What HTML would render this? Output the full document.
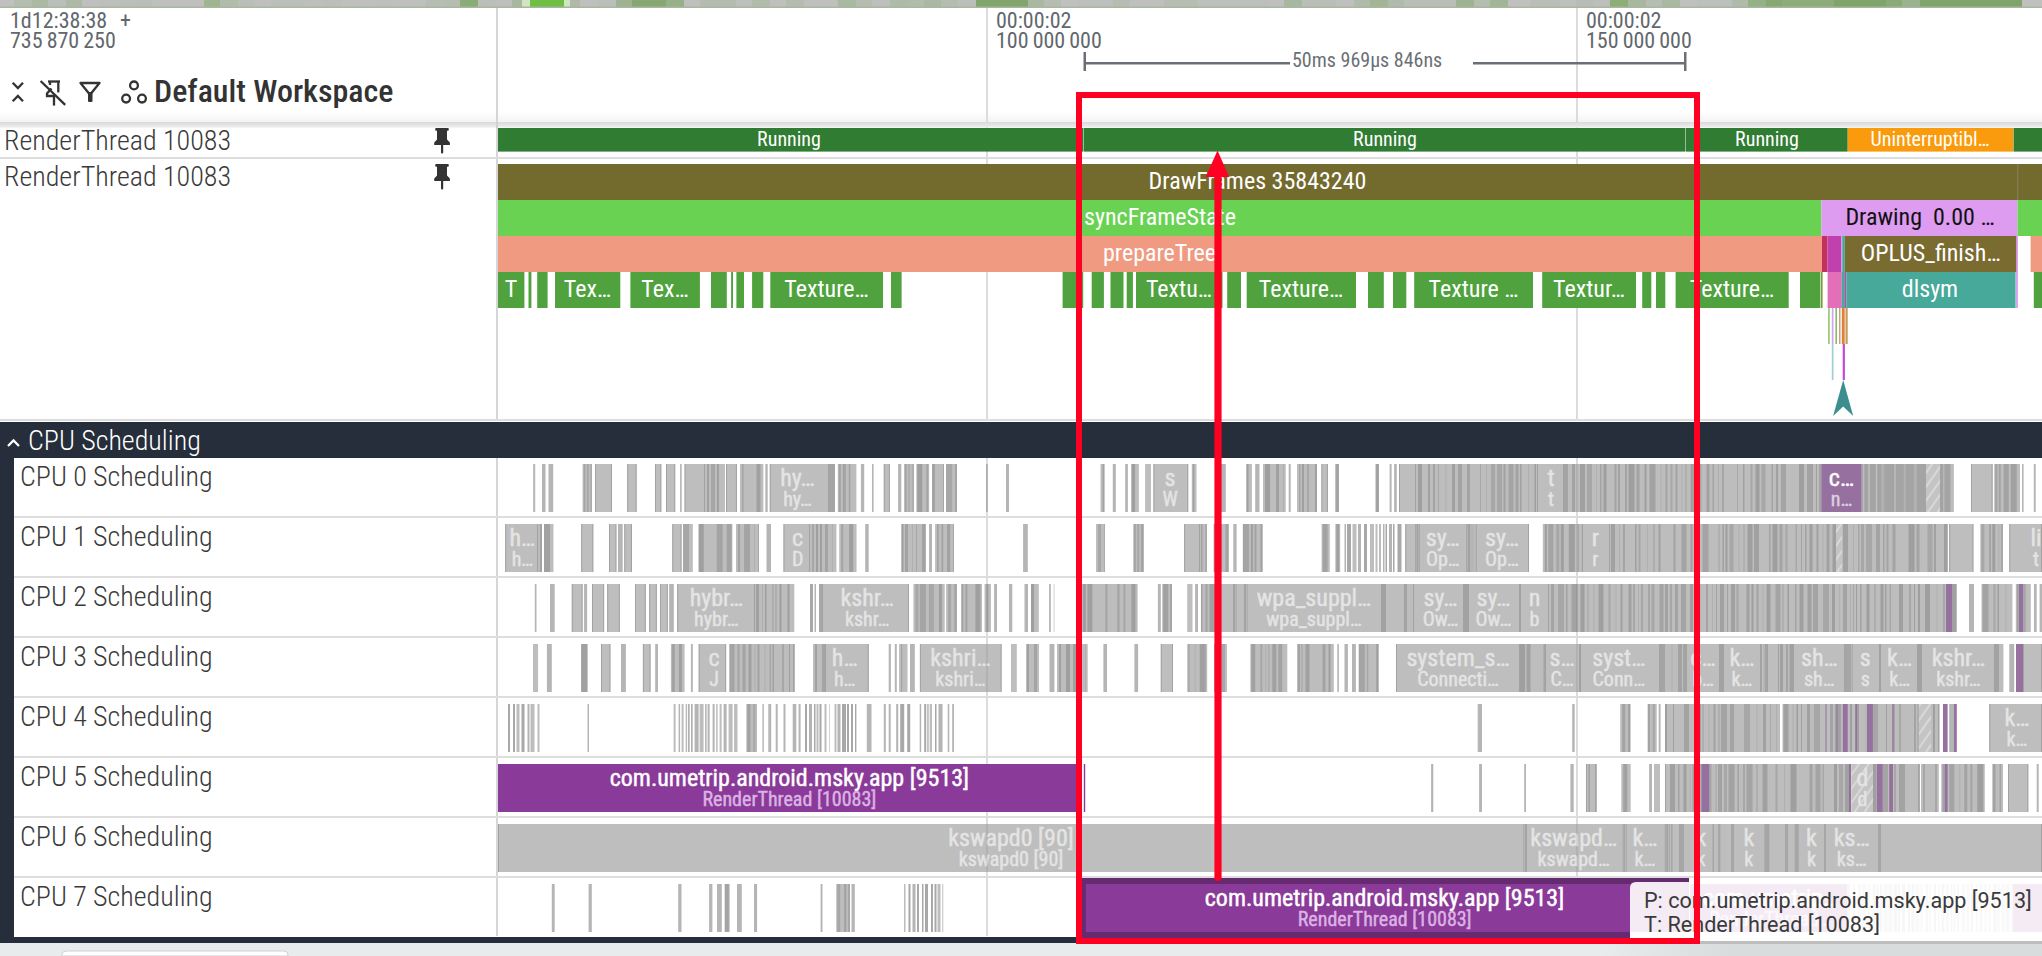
<!DOCTYPE html>
<html><head><meta charset="utf-8"><title>Perfetto UI</title>
<style>html,body{margin:0;padding:0;background:#fff;width:2042px;height:956px;overflow:hidden}
</style></head>
<body><svg width="2042" height="956" viewBox="0 0 2042 956" style="display:block"><rect x="0.0" y="0.0" width="2042.0" height="956.0" fill="#ffffff"/><rect x="0.0" y="0.0" width="14.5" height="7.0" fill="#c0c0bf"/><rect x="14.0" y="0.0" width="18.5" height="7.0" fill="#b5bcb0"/><rect x="32.0" y="0.0" width="16.5" height="7.0" fill="#abb9a3"/><rect x="48.0" y="0.0" width="18.5" height="7.0" fill="#bbbfb9"/><rect x="66.0" y="0.0" width="16.5" height="7.0" fill="#adb9a6"/><rect x="82.0" y="0.0" width="122.5" height="7.0" fill="#bfc0be"/><rect x="100.0" y="0.0" width="18.5" height="7.0" fill="#bcbfbb"/><rect x="118.0" y="0.0" width="17.5" height="7.0" fill="#bbbfba"/><rect x="135.0" y="0.0" width="17.5" height="7.0" fill="#b9beb7"/><rect x="204.0" y="0.0" width="16.5" height="7.0" fill="#9fb592"/><rect x="220.0" y="0.0" width="18.5" height="7.0" fill="#b2bcac"/><rect x="238.0" y="0.0" width="16.5" height="7.0" fill="#b9bfb6"/><rect x="254.0" y="0.0" width="17.5" height="7.0" fill="#bfc0be"/><rect x="271.0" y="0.0" width="17.5" height="7.0" fill="#bbbfba"/><rect x="288.0" y="0.0" width="18.5" height="7.0" fill="#bbbeb9"/><rect x="306.0" y="0.0" width="18.5" height="7.0" fill="#bebfbd"/><rect x="324.0" y="0.0" width="17.5" height="7.0" fill="#bbbeb9"/><rect x="341.0" y="0.0" width="35.5" height="7.0" fill="#bfc0be"/><rect x="376.0" y="0.0" width="16.5" height="7.0" fill="#bdbfbc"/><rect x="392.0" y="0.0" width="34.5" height="7.0" fill="#bfc0be"/><rect x="426.0" y="0.0" width="18.5" height="7.0" fill="#b6bdb2"/><rect x="444.0" y="0.0" width="16.5" height="7.0" fill="#b4bdb0"/><rect x="460.0" y="0.0" width="18.5" height="7.0" fill="#8aac76"/><rect x="478.0" y="0.0" width="16.5" height="7.0" fill="#bbbfba"/><rect x="494.0" y="0.0" width="18.5" height="7.0" fill="#bebfbd"/><rect x="512.0" y="0.0" width="10.5" height="7.0" fill="#a9b7a0"/><rect x="522.0" y="0.0" width="8.5" height="7.0" fill="#cfe6bf"/><rect x="530.0" y="0.0" width="34.5" height="7.0" fill="#6fbf45"/><rect x="564.0" y="0.0" width="6.5" height="7.0" fill="#cfe6bf"/><rect x="570.0" y="0.0" width="10.5" height="7.0" fill="#b0b9aa"/><rect x="580.0" y="0.0" width="18.5" height="7.0" fill="#bfc0be"/><rect x="598.0" y="0.0" width="18.5" height="7.0" fill="#bbbfb9"/><rect x="616.0" y="0.0" width="16.5" height="7.0" fill="#9fb393"/><rect x="632.0" y="0.0" width="34.5" height="7.0" fill="#87a672"/><rect x="666.0" y="0.0" width="18.5" height="7.0" fill="#96b087"/><rect x="684.0" y="0.0" width="16.5" height="7.0" fill="#bfc0be"/><rect x="700.0" y="0.0" width="36.5" height="7.0" fill="#b4bcaf"/><rect x="736.0" y="0.0" width="16.5" height="7.0" fill="#bcbfbb"/><rect x="752.0" y="0.0" width="18.5" height="7.0" fill="#b2bcac"/><rect x="770.0" y="0.0" width="16.5" height="7.0" fill="#bfc0be"/><rect x="786.0" y="0.0" width="18.5" height="7.0" fill="#b3bcae"/><rect x="804.0" y="0.0" width="34.5" height="7.0" fill="#bfc0be"/><rect x="838.0" y="0.0" width="18.5" height="7.0" fill="#a9b8a1"/><rect x="856.0" y="0.0" width="16.5" height="7.0" fill="#b4bdb0"/><rect x="872.0" y="0.0" width="18.5" height="7.0" fill="#bdbfbc"/><rect x="890.0" y="0.0" width="18.5" height="7.0" fill="#aebba8"/><rect x="908.0" y="0.0" width="16.5" height="7.0" fill="#b2bcad"/><rect x="924.0" y="0.0" width="17.5" height="7.0" fill="#a9b8a2"/><rect x="941.0" y="0.0" width="17.5" height="7.0" fill="#b4bdb0"/><rect x="958.0" y="0.0" width="18.5" height="7.0" fill="#bbbfba"/><rect x="976.0" y="0.0" width="52.5" height="7.0" fill="#82a56e"/><rect x="1028.0" y="0.0" width="16.5" height="7.0" fill="#aab8a2"/><rect x="1044.0" y="0.0" width="17.5" height="7.0" fill="#b5bcb1"/><rect x="1061.0" y="0.0" width="17.5" height="7.0" fill="#c0c0bf"/><rect x="1078.0" y="0.0" width="35.5" height="7.0" fill="#bcbfbb"/><rect x="1113.0" y="0.0" width="17.5" height="7.0" fill="#b6bdb2"/><rect x="1130.0" y="0.0" width="34.5" height="7.0" fill="#bfc0be"/><rect x="1164.0" y="0.0" width="34.5" height="7.0" fill="#b6bdb2"/><rect x="1198.0" y="0.0" width="69.5" height="7.0" fill="#bcbfbb"/><rect x="1267.0" y="0.0" width="17.5" height="7.0" fill="#bfc0be"/><rect x="1284.0" y="0.0" width="18.5" height="7.0" fill="#a8b7a0"/><rect x="1302.0" y="0.0" width="34.5" height="7.0" fill="#b9beb6"/><rect x="1336.0" y="0.0" width="18.5" height="7.0" fill="#bfc0be"/><rect x="1354.0" y="0.0" width="16.5" height="7.0" fill="#b1bbab"/><rect x="1370.0" y="0.0" width="18.5" height="7.0" fill="#a2b596"/><rect x="1388.0" y="0.0" width="16.5" height="7.0" fill="#b1bbab"/><rect x="1404.0" y="0.0" width="52.5" height="7.0" fill="#b9beb7"/><rect x="1456.0" y="0.0" width="18.5" height="7.0" fill="#9db391"/><rect x="1474.0" y="0.0" width="16.5" height="7.0" fill="#b5bdb1"/><rect x="1490.0" y="0.0" width="18.5" height="7.0" fill="#a2b597"/><rect x="1508.0" y="0.0" width="22.5" height="7.0" fill="#bfc0bf"/><rect x="1530.0" y="0.0" width="30.5" height="7.0" fill="#b9beb6"/><rect x="1560.0" y="0.0" width="16.5" height="7.0" fill="#bfc0be"/><rect x="1576.0" y="0.0" width="18.5" height="7.0" fill="#b8beb5"/><rect x="1594.0" y="0.0" width="16.5" height="7.0" fill="#bcbfbb"/><rect x="1610.0" y="0.0" width="18.5" height="7.0" fill="#8dad79"/><rect x="1628.0" y="0.0" width="18.5" height="7.0" fill="#a8b7a0"/><rect x="1646.0" y="0.0" width="16.5" height="7.0" fill="#b6bdb2"/><rect x="1662.0" y="0.0" width="18.5" height="7.0" fill="#a9b8a1"/><rect x="1680.0" y="0.0" width="17.5" height="7.0" fill="#c0c0bf"/><rect x="1697.0" y="0.0" width="35.5" height="7.0" fill="#bcbfbb"/><rect x="1732.0" y="0.0" width="16.5" height="7.0" fill="#b1bbab"/><rect x="1748.0" y="0.0" width="18.5" height="7.0" fill="#94b085"/><rect x="1766.0" y="0.0" width="16.5" height="7.0" fill="#88a873"/><rect x="1782.0" y="0.0" width="52.5" height="7.0" fill="#8dac7a"/><rect x="1834.0" y="0.0" width="52.5" height="7.0" fill="#80a56b"/><rect x="1886.0" y="0.0" width="16.5" height="7.0" fill="#8aab77"/><rect x="1902.0" y="0.0" width="18.5" height="7.0" fill="#9bb28f"/><rect x="1920.0" y="0.0" width="102.5" height="7.0" fill="#80a56c"/><rect x="2022.0" y="0.0" width="20.5" height="7.0" fill="#c0c0bf"/><rect x="0.0" y="6.5" width="2042.0" height="1.5" fill="#a9b6a0"/><rect x="986.0" y="8.0" width="2.0" height="114.0" fill="#dcdcdc"/><rect x="1576.0" y="8.0" width="2.0" height="114.0" fill="#dcdcdc"/><rect x="496.0" y="8.0" width="2.0" height="114.0" fill="#d6d6d6"/><text x="10.0" y="28.0" font-size="22" font-weight="400" fill="#62676d" text-anchor="start" style="font-family:'Roboto Condensed','Liberation Sans',sans-serif" textLength="97.22" lengthAdjust="spacingAndGlyphs">1d12:38:38</text><text x="120.0" y="28.0" font-size="22" font-weight="400" fill="#62676d" text-anchor="start" style="font-family:'Roboto Condensed','Liberation Sans',sans-serif" textLength="10.94" lengthAdjust="spacingAndGlyphs">+</text><text x="10.0" y="48.0" font-size="22" font-weight="400" fill="#62676d" text-anchor="start" style="font-family:'Roboto Condensed','Liberation Sans',sans-serif" textLength="105.84" lengthAdjust="spacingAndGlyphs" word-spacing="-1">735 870 250</text><text x="996.0" y="28.0" font-size="22" font-weight="400" fill="#62676d" text-anchor="start" style="font-family:'Roboto Condensed','Liberation Sans',sans-serif" textLength="75.44" lengthAdjust="spacingAndGlyphs">00:00:02</text><text x="996.0" y="48.0" font-size="22" font-weight="400" fill="#62676d" text-anchor="start" style="font-family:'Roboto Condensed','Liberation Sans',sans-serif" textLength="105.84" lengthAdjust="spacingAndGlyphs" word-spacing="-1">100 000 000</text><text x="1586.0" y="28.0" font-size="22" font-weight="400" fill="#62676d" text-anchor="start" style="font-family:'Roboto Condensed','Liberation Sans',sans-serif" textLength="75.44" lengthAdjust="spacingAndGlyphs">00:00:02</text><text x="1586.0" y="48.0" font-size="22" font-weight="400" fill="#62676d" text-anchor="start" style="font-family:'Roboto Condensed','Liberation Sans',sans-serif" textLength="105.84" lengthAdjust="spacingAndGlyphs" word-spacing="-1">150 000 000</text><rect x="1083.5" y="52.0" width="2.5" height="19.0" fill="#6a6f75"/><rect x="1084.0" y="62.0" width="206.0" height="2.5" fill="#6a6f75"/><rect x="1473.0" y="62.0" width="212.0" height="2.5" fill="#6a6f75"/><rect x="1684.0" y="52.0" width="2.5" height="19.0" fill="#6a6f75"/><text x="1292.0" y="67.0" font-size="20" font-weight="400" fill="#6a6f75" text-anchor="start" style="font-family:'Roboto Condensed','Liberation Sans',sans-serif" textLength="150.25" lengthAdjust="spacingAndGlyphs">50ms 969µs 846ns</text><g fill="none" stroke="#333333" stroke-width="2.3"><polyline points="12.7,82.8 17.9,88 23,82.8"/><polyline points="12.7,101.2 17.9,96 23,101.2"/><line x1="40.6" y1="81" x2="65.2" y2="104.9"/><polyline points="48,81.5 60,81.5"/><line x1="58.3" y1="81.5" x2="58.3" y2="92.4"/><polyline points="50,82 50,85"/><polyline points="51.5,88.5 47,93.5 47,96 55,96"/><line x1="54" y1="96" x2="54" y2="105.6"/><polygon points="80.5,83 99.5,83 91,93.5 89,93.5" stroke-linejoin="round"/><circle cx="134" cy="85.4" r="3.9"/><circle cx="126.1" cy="98.6" r="3.9"/><circle cx="142" cy="98.6" r="3.9"/></g><rect x="88.0" y="92.0" width="4.5" height="10.0" fill="#333333" rx="1"/><text x="154.0" y="102.0" font-size="32" font-weight="500" fill="#333333" text-anchor="start" style="font-family:'Roboto Condensed','Liberation Sans',sans-serif" textLength="239.47" lengthAdjust="spacingAndGlyphs">Default Workspace</text><defs><linearGradient id="sh" x1="0" y1="0" x2="0" y2="1"><stop offset="0" stop-color="#dadada"/><stop offset="1" stop-color="#eeeeee"/></linearGradient><linearGradient id="sh2" x1="0" y1="0" x2="0" y2="1"><stop offset="0" stop-color="#ffffff"/><stop offset="1" stop-color="#f3f3f3"/></linearGradient><pattern id="hatch" width="8" height="8" patternUnits="userSpaceOnUse" patternTransform="rotate(35)"><rect width="8" height="8" fill="#c4c4c4"/><rect width="2" height="8" fill="#d8d8d8"/></pattern></defs><rect x="496.0" y="122.0" width="2.0" height="298.0" fill="#d6d6d6"/><rect x="986.0" y="122.0" width="2.0" height="298.0" fill="#dcdcdc"/><rect x="1576.0" y="122.0" width="2.0" height="298.0" fill="#dcdcdc"/><rect x="0.0" y="157.0" width="2042.0" height="2.0" fill="#dddddd"/><rect x="0.0" y="419.0" width="2042.0" height="2.0" fill="#dddddd"/><text x="4.0" y="150.0" font-size="28" font-weight="300" fill="#3a3a3a" text-anchor="start" style="font-family:'Roboto Condensed','Liberation Sans',sans-serif" textLength="227.02" lengthAdjust="spacingAndGlyphs">RenderThread 10083</text><text x="4.0" y="186.0" font-size="28" font-weight="300" fill="#3a3a3a" text-anchor="start" style="font-family:'Roboto Condensed','Liberation Sans',sans-serif" textLength="227.02" lengthAdjust="spacingAndGlyphs">RenderThread 10083</text><g fill="#333333"><rect x="435.2" y="128.0" width="13.6" height="2.8" rx="1"/><rect x="437" y="130.0" width="10" height="10"/><polygon points="437,139.5 434.2,142.5 434.2,145.0 449.9,145.0 449.9,142.5 447,139.5"/><rect x="441" y="144.0" width="2.2" height="9.6" rx="1"/></g><g fill="#333333"><rect x="435.2" y="164.0" width="13.6" height="2.8" rx="1"/><rect x="437" y="166.0" width="10" height="10"/><polygon points="437,175.5 434.2,178.5 434.2,181.0 449.9,181.0 449.9,178.5 447,175.5"/><rect x="441" y="180.0" width="2.2" height="9.6" rx="1"/></g><rect x="498.0" y="128.0" width="585.0" height="23.6" fill="#2f7c32"/><rect x="1083.5" y="128.0" width="602.0" height="23.6" fill="#2f7c32"/><rect x="1686.0" y="128.0" width="161.7" height="23.6" fill="#2f7c32"/><rect x="1847.7" y="128.0" width="165.7" height="23.6" fill="#f99b0c"/><rect x="2013.6" y="128.0" width="28.4" height="23.6" fill="#2f7c32"/><text x="789.0" y="146.0" font-size="20" font-weight="400" fill="#ffffff" text-anchor="middle" style="font-family:'Roboto Condensed','Liberation Sans',sans-serif" textLength="63.81" lengthAdjust="spacingAndGlyphs">Running</text><text x="1385.0" y="146.0" font-size="20" font-weight="400" fill="#ffffff" text-anchor="middle" style="font-family:'Roboto Condensed','Liberation Sans',sans-serif" textLength="63.81" lengthAdjust="spacingAndGlyphs">Running</text><text x="1767.0" y="146.0" font-size="20" font-weight="400" fill="#ffffff" text-anchor="middle" style="font-family:'Roboto Condensed','Liberation Sans',sans-serif" textLength="63.81" lengthAdjust="spacingAndGlyphs">Running</text><text x="1930.0" y="146.0" font-size="20" font-weight="400" fill="#ffffff" text-anchor="middle" style="font-family:'Roboto Condensed','Liberation Sans',sans-serif" textLength="118.98" lengthAdjust="spacingAndGlyphs">Uninterruptibl…</text><rect x="498.0" y="164.0" width="1544.0" height="36.0" fill="#736a2e"/><rect x="2017.3" y="164.0" width="1.0" height="36.0" fill="#8d8257"/><rect x="498.0" y="200.0" width="1323.4" height="36.0" fill="#69d253"/><rect x="1821.4" y="200.0" width="196.1" height="36.0" fill="#dd9cef"/><rect x="2017.5" y="200.0" width="24.5" height="36.0" fill="#69d253"/><rect x="498.0" y="236.0" width="1324.0" height="36.0" fill="#f09a81"/><rect x="1822.0" y="236.0" width="5.5" height="36.0" fill="#c2305d"/><rect x="1827.5" y="236.0" width="13.5" height="36.0" fill="#c040ae"/><rect x="1841.0" y="236.0" width="1.2" height="36.0" fill="#d7a0e8"/><rect x="1842.2" y="236.0" width="2.6" height="36.0" fill="#48a89a"/><rect x="1844.8" y="236.0" width="171.7" height="36.0" fill="#7a6b30"/><rect x="2030.6" y="236.0" width="11.4" height="36.0" fill="#f09a81"/><rect x="2016.2" y="236.0" width="1.6" height="72.0" fill="#d68be8"/><rect x="498.0" y="272.0" width="26.4" height="36.0" fill="#4fa23e"/><rect x="528.5" y="272.0" width="2.9" height="36.0" fill="#4fa23e"/><rect x="537.2" y="272.0" width="10.4" height="36.0" fill="#4fa23e"/><rect x="555.0" y="272.0" width="65.3" height="36.0" fill="#4fa23e"/><rect x="630.4" y="272.0" width="69.5" height="36.0" fill="#4fa23e"/><rect x="711.0" y="272.0" width="15.8" height="36.0" fill="#4fa23e"/><rect x="731.1" y="272.0" width="1.9" height="36.0" fill="#4fa23e"/><rect x="736.4" y="272.0" width="7.6" height="36.0" fill="#4fa23e"/><rect x="752.1" y="272.0" width="11.2" height="36.0" fill="#4fa23e"/><rect x="770.3" y="272.0" width="112.7" height="36.0" fill="#4fa23e"/><rect x="891.0" y="272.0" width="10.6" height="36.0" fill="#4fa23e"/><rect x="1062.6" y="272.0" width="20.6" height="36.0" fill="#4fa23e"/><rect x="1091.7" y="272.0" width="12.2" height="36.0" fill="#4fa23e"/><rect x="1110.5" y="272.0" width="13.0" height="36.0" fill="#4fa23e"/><rect x="1126.7" y="272.0" width="6.2" height="36.0" fill="#4fa23e"/><rect x="1136.0" y="272.0" width="86.5" height="36.0" fill="#4fa23e"/><rect x="1227.2" y="272.0" width="13.8" height="36.0" fill="#4fa23e"/><rect x="1246.7" y="272.0" width="109.3" height="36.0" fill="#4fa23e"/><rect x="1368.0" y="272.0" width="15.8" height="36.0" fill="#4fa23e"/><rect x="1393.0" y="272.0" width="13.3" height="36.0" fill="#4fa23e"/><rect x="1414.2" y="272.0" width="118.8" height="36.0" fill="#4fa23e"/><rect x="1542.2" y="272.0" width="93.8" height="36.0" fill="#4fa23e"/><rect x="1642.2" y="272.0" width="9.1" height="36.0" fill="#4fa23e"/><rect x="1656.0" y="272.0" width="9.3" height="36.0" fill="#4fa23e"/><rect x="1675.6" y="272.0" width="113.1" height="36.0" fill="#4fa23e"/><rect x="1800.0" y="272.0" width="20.4" height="36.0" fill="#4fa23e"/><rect x="2033.8" y="272.0" width="8.2" height="36.0" fill="#4fa23e"/><rect x="1821.0" y="272.0" width="1.6" height="36.0" fill="#7f9a3a"/><rect x="1827.6" y="272.0" width="14.2" height="36.0" fill="#e36fb9"/><rect x="1841.8" y="272.0" width="3.1" height="36.0" fill="#48a89a"/><rect x="1844.9" y="272.0" width="1.6" height="36.0" fill="#c040ae"/><rect x="1846.5" y="272.0" width="169.1" height="36.0" fill="#46a99a"/><rect x="1828.0" y="308.0" width="1.8" height="36.0" fill="#9ccc7a"/><rect x="1831.8" y="308.0" width="1.7" height="36.0" fill="#d6a3f0"/><rect x="1835.5" y="308.0" width="1.3" height="36.0" fill="#6aa84f"/><rect x="1839.0" y="308.0" width="1.5" height="36.0" fill="#c4a27c"/><rect x="1841.8" y="308.0" width="2.9" height="36.0" fill="#e0803a"/><rect x="1845.5" y="308.0" width="2.2" height="36.0" fill="#c49a5a"/><rect x="1831.8" y="344.0" width="1.7" height="36.0" fill="#9fd0d0"/><rect x="1842.7" y="344.0" width="2.2" height="36.0" fill="#c24ad6"/><polygon points="1843.2,380 1853.2,416 1843.2,406.6 1833.1,416" fill="#3d8f8f"/><text x="1257.5" y="189.0" font-size="24" font-weight="400" fill="#ffffff" text-anchor="middle" style="font-family:'Roboto Condensed','Liberation Sans',sans-serif" textLength="217.78" lengthAdjust="spacingAndGlyphs">DrawFrames 35843240</text><text x="1160.0" y="225.0" font-size="24" font-weight="400" fill="#ffffff" text-anchor="middle" style="font-family:'Roboto Condensed','Liberation Sans',sans-serif" textLength="151.95" lengthAdjust="spacingAndGlyphs">syncFrameState</text><text x="1159.5" y="261.0" font-size="24" font-weight="400" fill="#ffffff" text-anchor="middle" style="font-family:'Roboto Condensed','Liberation Sans',sans-serif" textLength="113.06" lengthAdjust="spacingAndGlyphs">prepareTree</text><text x="1920.0" y="225.0" font-size="24" font-weight="400" fill="#111111" text-anchor="middle" style="font-family:'Roboto Condensed','Liberation Sans',sans-serif" textLength="149.17" lengthAdjust="spacingAndGlyphs" xml:space="preserve">Drawing  0.00 …</text><text x="1930.7" y="261.0" font-size="24" font-weight="400" fill="#ffffff" text-anchor="middle" style="font-family:'Roboto Condensed','Liberation Sans',sans-serif" textLength="139.75" lengthAdjust="spacingAndGlyphs">OPLUS_finish…</text><text x="1930.0" y="297.0" font-size="24" font-weight="400" fill="#ffffff" text-anchor="middle" style="font-family:'Roboto Condensed','Liberation Sans',sans-serif" textLength="56.44" lengthAdjust="spacingAndGlyphs">dlsym</text><text x="511.0" y="297.0" font-size="24" font-weight="400" fill="#ffffff" text-anchor="middle" style="font-family:'Roboto Condensed','Liberation Sans',sans-serif" textLength="12.50" lengthAdjust="spacingAndGlyphs">T</text><text x="587.5" y="297.0" font-size="24" font-weight="400" fill="#ffffff" text-anchor="middle" style="font-family:'Roboto Condensed','Liberation Sans',sans-serif" textLength="47.30" lengthAdjust="spacingAndGlyphs">Tex…</text><text x="665.0" y="297.0" font-size="24" font-weight="400" fill="#ffffff" text-anchor="middle" style="font-family:'Roboto Condensed','Liberation Sans',sans-serif" textLength="47.30" lengthAdjust="spacingAndGlyphs">Tex…</text><text x="826.5" y="297.0" font-size="24" font-weight="400" fill="#ffffff" text-anchor="middle" style="font-family:'Roboto Condensed','Liberation Sans',sans-serif" textLength="84.33" lengthAdjust="spacingAndGlyphs">Texture…</text><text x="1179.0" y="297.0" font-size="24" font-weight="400" fill="#ffffff" text-anchor="middle" style="font-family:'Roboto Condensed','Liberation Sans',sans-serif" textLength="66.00" lengthAdjust="spacingAndGlyphs">Textu…</text><text x="1301.0" y="297.0" font-size="24" font-weight="400" fill="#ffffff" text-anchor="middle" style="font-family:'Roboto Condensed','Liberation Sans',sans-serif" textLength="84.33" lengthAdjust="spacingAndGlyphs">Texture…</text><text x="1473.5" y="297.0" font-size="24" font-weight="400" fill="#ffffff" text-anchor="middle" style="font-family:'Roboto Condensed','Liberation Sans',sans-serif" textLength="89.84" lengthAdjust="spacingAndGlyphs">Texture …</text><text x="1589.0" y="297.0" font-size="24" font-weight="400" fill="#ffffff" text-anchor="middle" style="font-family:'Roboto Condensed','Liberation Sans',sans-serif" textLength="71.86" lengthAdjust="spacingAndGlyphs">Textur…</text><text x="1732.0" y="297.0" font-size="24" font-weight="400" fill="#ffffff" text-anchor="middle" style="font-family:'Roboto Condensed','Liberation Sans',sans-serif" textLength="84.33" lengthAdjust="spacingAndGlyphs">Texture…</text><rect x="0.0" y="122.0" width="2042.0" height="5.6" fill="url(#sh)"/><rect x="0.0" y="112.0" width="496.0" height="10.0" fill="url(#sh2)"/><rect x="498.0" y="112.0" width="488.0" height="10.0" fill="url(#sh2)"/><rect x="988.0" y="112.0" width="588.0" height="10.0" fill="url(#sh2)"/><rect x="1578.0" y="112.0" width="464.0" height="10.0" fill="url(#sh2)"/><rect x="496.0" y="122.0" width="2.0" height="6.0" fill="#d0d0d0"/><rect x="0.0" y="422.0" width="2042.0" height="36.0" fill="#262e3b"/><polyline points="8,446 13.5,440.5 19,446" fill="none" stroke="#ffffff" stroke-width="2.3"/><text x="28.0" y="450.0" font-size="28" font-weight="300" fill="#ffffff" text-anchor="start" style="font-family:'Roboto Condensed','Liberation Sans',sans-serif" textLength="172.78" lengthAdjust="spacingAndGlyphs">CPU Scheduling</text><rect x="0.0" y="458.0" width="14.0" height="485.0" fill="#262e3b"/><rect x="14.0" y="937.0" width="2028.0" height="6.0" fill="#262e3b"/><rect x="14.0" y="458.0" width="2028.0" height="58.0" fill="#ffffff"/><rect x="496.0" y="458.0" width="2.0" height="58.0" fill="#d6d6d6"/><rect x="986.0" y="458.0" width="2.0" height="58.0" fill="#eaeaea"/><rect x="1576.0" y="458.0" width="2.0" height="58.0" fill="#eaeaea"/><rect x="14.0" y="516.0" width="2028.0" height="2.0" fill="#dddddd"/><text x="20.0" y="486.0" font-size="28" font-weight="300" fill="#3a3a3a" text-anchor="start" style="font-family:'Roboto Condensed','Liberation Sans',sans-serif" textLength="192.70" lengthAdjust="spacingAndGlyphs">CPU 0 Scheduling</text><rect x="14.0" y="518.0" width="2028.0" height="58.0" fill="#ffffff"/><rect x="496.0" y="518.0" width="2.0" height="58.0" fill="#d6d6d6"/><rect x="986.0" y="518.0" width="2.0" height="58.0" fill="#eaeaea"/><rect x="1576.0" y="518.0" width="2.0" height="58.0" fill="#eaeaea"/><rect x="14.0" y="576.0" width="2028.0" height="2.0" fill="#dddddd"/><text x="20.0" y="546.0" font-size="28" font-weight="300" fill="#3a3a3a" text-anchor="start" style="font-family:'Roboto Condensed','Liberation Sans',sans-serif" textLength="192.70" lengthAdjust="spacingAndGlyphs">CPU 1 Scheduling</text><rect x="14.0" y="578.0" width="2028.0" height="58.0" fill="#ffffff"/><rect x="496.0" y="578.0" width="2.0" height="58.0" fill="#d6d6d6"/><rect x="986.0" y="578.0" width="2.0" height="58.0" fill="#eaeaea"/><rect x="1576.0" y="578.0" width="2.0" height="58.0" fill="#eaeaea"/><rect x="14.0" y="636.0" width="2028.0" height="2.0" fill="#dddddd"/><text x="20.0" y="606.0" font-size="28" font-weight="300" fill="#3a3a3a" text-anchor="start" style="font-family:'Roboto Condensed','Liberation Sans',sans-serif" textLength="192.70" lengthAdjust="spacingAndGlyphs">CPU 2 Scheduling</text><rect x="14.0" y="638.0" width="2028.0" height="58.0" fill="#ffffff"/><rect x="496.0" y="638.0" width="2.0" height="58.0" fill="#d6d6d6"/><rect x="986.0" y="638.0" width="2.0" height="58.0" fill="#eaeaea"/><rect x="1576.0" y="638.0" width="2.0" height="58.0" fill="#eaeaea"/><rect x="14.0" y="696.0" width="2028.0" height="2.0" fill="#dddddd"/><text x="20.0" y="666.0" font-size="28" font-weight="300" fill="#3a3a3a" text-anchor="start" style="font-family:'Roboto Condensed','Liberation Sans',sans-serif" textLength="192.70" lengthAdjust="spacingAndGlyphs">CPU 3 Scheduling</text><rect x="14.0" y="698.0" width="2028.0" height="58.0" fill="#ffffff"/><rect x="496.0" y="698.0" width="2.0" height="58.0" fill="#d6d6d6"/><rect x="986.0" y="698.0" width="2.0" height="58.0" fill="#eaeaea"/><rect x="1576.0" y="698.0" width="2.0" height="58.0" fill="#eaeaea"/><rect x="14.0" y="756.0" width="2028.0" height="2.0" fill="#dddddd"/><text x="20.0" y="726.0" font-size="28" font-weight="300" fill="#3a3a3a" text-anchor="start" style="font-family:'Roboto Condensed','Liberation Sans',sans-serif" textLength="192.70" lengthAdjust="spacingAndGlyphs">CPU 4 Scheduling</text><rect x="14.0" y="758.0" width="2028.0" height="58.0" fill="#ffffff"/><rect x="496.0" y="758.0" width="2.0" height="58.0" fill="#d6d6d6"/><rect x="986.0" y="758.0" width="2.0" height="58.0" fill="#eaeaea"/><rect x="1576.0" y="758.0" width="2.0" height="58.0" fill="#eaeaea"/><rect x="14.0" y="816.0" width="2028.0" height="2.0" fill="#dddddd"/><text x="20.0" y="786.0" font-size="28" font-weight="300" fill="#3a3a3a" text-anchor="start" style="font-family:'Roboto Condensed','Liberation Sans',sans-serif" textLength="192.70" lengthAdjust="spacingAndGlyphs">CPU 5 Scheduling</text><rect x="14.0" y="818.0" width="2028.0" height="58.0" fill="#ffffff"/><rect x="496.0" y="818.0" width="2.0" height="58.0" fill="#d6d6d6"/><rect x="986.0" y="818.0" width="2.0" height="58.0" fill="#eaeaea"/><rect x="1576.0" y="818.0" width="2.0" height="58.0" fill="#eaeaea"/><rect x="14.0" y="876.0" width="2028.0" height="2.0" fill="#dddddd"/><text x="20.0" y="846.0" font-size="28" font-weight="300" fill="#3a3a3a" text-anchor="start" style="font-family:'Roboto Condensed','Liberation Sans',sans-serif" textLength="192.70" lengthAdjust="spacingAndGlyphs">CPU 6 Scheduling</text><rect x="14.0" y="878.0" width="2028.0" height="58.0" fill="#ffffff"/><rect x="496.0" y="878.0" width="2.0" height="58.0" fill="#d6d6d6"/><rect x="986.0" y="878.0" width="2.0" height="58.0" fill="#eaeaea"/><rect x="1576.0" y="878.0" width="2.0" height="58.0" fill="#eaeaea"/><text x="20.0" y="906.0" font-size="28" font-weight="300" fill="#3a3a3a" text-anchor="start" style="font-family:'Roboto Condensed','Liberation Sans',sans-serif" textLength="192.70" lengthAdjust="spacingAndGlyphs">CPU 7 Scheduling</text><rect x="533.2" y="464.0" width="2.0" height="48.0" fill="#b5b5b5"/><rect x="542.0" y="464.0" width="3.5" height="48.0" fill="#b5b5b5"/><rect x="548.5" y="464.0" width="4.7" height="48.0" fill="#b5b5b5"/><rect x="582.6" y="464.0" width="9.2" height="48.0" fill="#bdbdbd"/><rect x="583.6" y="464.0" width="2.0" height="48.0" fill="#a7a7a7"/><rect x="587.1" y="464.0" width="1.5" height="48.0" fill="#a3a3a3"/><rect x="590.6" y="464.0" width="1.2" height="48.0" fill="#a3a3a3"/><rect x="595.1" y="464.0" width="16.9" height="48.0" fill="#bebebe"/><rect x="595.1" y="464.0" width="1.0" height="48.0" fill="#a2a2a2"/><rect x="611.0" y="464.0" width="1.0" height="48.0" fill="#a2a2a2"/><rect x="627.2" y="464.0" width="9.4" height="48.0" fill="#bebebe"/><rect x="627.2" y="464.0" width="1.0" height="48.0" fill="#a2a2a2"/><rect x="635.6" y="464.0" width="1.0" height="48.0" fill="#a2a2a2"/><rect x="655.0" y="464.0" width="6.3" height="48.0" fill="#bebebe"/><rect x="655.0" y="464.0" width="1.0" height="48.0" fill="#a2a2a2"/><rect x="660.3" y="464.0" width="1.0" height="48.0" fill="#a2a2a2"/><rect x="666.0" y="464.0" width="9.2" height="48.0" fill="#bebebe"/><rect x="666.0" y="464.0" width="1.0" height="48.0" fill="#a2a2a2"/><rect x="674.2" y="464.0" width="1.0" height="48.0" fill="#a2a2a2"/><rect x="680.1" y="464.0" width="1.6" height="48.0" fill="#b5b5b5"/><rect x="684.6" y="464.0" width="20.4" height="48.0" fill="#bebebe"/><rect x="684.6" y="464.0" width="1.0" height="48.0" fill="#a2a2a2"/><rect x="704.0" y="464.0" width="1.0" height="48.0" fill="#a2a2a2"/><rect x="705.0" y="464.0" width="19.6" height="48.0" fill="#bdbdbd"/><rect x="707.0" y="464.0" width="2.0" height="48.0" fill="#a1a1a1"/><rect x="711.0" y="464.0" width="4.0" height="48.0" fill="#a7a7a7"/><rect x="717.0" y="464.0" width="2.0" height="48.0" fill="#a1a1a1"/><rect x="724.0" y="464.0" width="0.6" height="48.0" fill="#b0b0b0"/><rect x="726.1" y="464.0" width="10.8" height="48.0" fill="#bebebe"/><rect x="726.1" y="464.0" width="1.0" height="48.0" fill="#a2a2a2"/><rect x="735.9" y="464.0" width="1.0" height="48.0" fill="#a2a2a2"/><rect x="740.0" y="464.0" width="23.4" height="48.0" fill="#bdbdbd"/><rect x="742.0" y="464.0" width="1.5" height="48.0" fill="#a4a4a4"/><rect x="756.5" y="464.0" width="4.0" height="48.0" fill="#a1a1a1"/><rect x="765.3" y="464.0" width="2.4" height="48.0" fill="#b5b5b5"/><rect x="769.8" y="464.0" width="59.2" height="48.0" fill="#bebebe"/><rect x="769.8" y="464.0" width="1.0" height="48.0" fill="#a2a2a2"/><rect x="828.0" y="464.0" width="1.0" height="48.0" fill="#a2a2a2"/><rect x="829.0" y="464.0" width="5.9" height="48.0" fill="#bdbdbd"/><rect x="829.0" y="464.0" width="5.9" height="48.0" fill="#a4a4a4"/><rect x="837.8" y="464.0" width="18.6" height="48.0" fill="#bdbdbd"/><rect x="838.8" y="464.0" width="2.0" height="48.0" fill="#a3a3a3"/><rect x="842.8" y="464.0" width="3.0" height="48.0" fill="#a3a3a3"/><rect x="848.8" y="464.0" width="1.5" height="48.0" fill="#a3a3a3"/><rect x="860.9" y="464.0" width="3.3" height="48.0" fill="#b5b5b5"/><rect x="872.0" y="464.0" width="1.6" height="48.0" fill="#b5b5b5"/><rect x="883.8" y="464.0" width="6.1" height="48.0" fill="#bebebe"/><rect x="883.8" y="464.0" width="1.0" height="48.0" fill="#a2a2a2"/><rect x="888.9" y="464.0" width="1.0" height="48.0" fill="#a2a2a2"/><rect x="898.1" y="464.0" width="3.2" height="48.0" fill="#b5b5b5"/><rect x="904.0" y="464.0" width="9.8" height="48.0" fill="#bdbdbd"/><rect x="905.0" y="464.0" width="1.5" height="48.0" fill="#a3a3a3"/><rect x="908.5" y="464.0" width="1.0" height="48.0" fill="#a3a3a3"/><rect x="912.5" y="464.0" width="1.3" height="48.0" fill="#a3a3a3"/><rect x="916.3" y="464.0" width="12.8" height="48.0" fill="#bdbdbd"/><rect x="917.3" y="464.0" width="5.0" height="48.0" fill="#9f9f9f"/><rect x="926.3" y="464.0" width="2.0" height="48.0" fill="#a4a4a4"/><rect x="932.0" y="464.0" width="11.8" height="48.0" fill="#bdbdbd"/><rect x="932.0" y="464.0" width="3.0" height="48.0" fill="#a3a3a3"/><rect x="943.0" y="464.0" width="0.8" height="48.0" fill="#9f9f9f"/><rect x="946.1" y="464.0" width="10.8" height="48.0" fill="#bdbdbd"/><rect x="946.1" y="464.0" width="6.0" height="48.0" fill="#a7a7a7"/><rect x="955.1" y="464.0" width="1.8" height="48.0" fill="#a4a4a4"/><rect x="962.1" y="464.0" width="-5.2" height="48.0" fill="#b0b0b0"/><rect x="986.3" y="464.0" width="1.3" height="48.0" fill="#a8a8a8"/><rect x="1006.0" y="464.0" width="3.0" height="48.0" fill="#b5b5b5"/><rect x="1100.5" y="464.0" width="4.3" height="48.0" fill="#bdbdbd"/><rect x="1102.5" y="464.0" width="1.5" height="48.0" fill="#a3a3a3"/><rect x="1112.8" y="464.0" width="3.0" height="48.0" fill="#b5b5b5"/><rect x="1125.2" y="464.0" width="2.7" height="48.0" fill="#b5b5b5"/><rect x="1131.0" y="464.0" width="7.9" height="48.0" fill="#bdbdbd"/><rect x="1132.0" y="464.0" width="3.0" height="48.0" fill="#9f9f9f"/><rect x="1141.5" y="464.0" width="-2.6" height="48.0" fill="#b0b0b0"/><rect x="1145.1" y="464.0" width="5.9" height="48.0" fill="#bebebe"/><rect x="1153.4" y="464.0" width="34.8" height="48.0" fill="#bebebe"/><rect x="1153.4" y="464.0" width="1.0" height="48.0" fill="#a2a2a2"/><rect x="1187.2" y="464.0" width="1.0" height="48.0" fill="#a2a2a2"/><rect x="1191.8" y="464.0" width="4.7" height="48.0" fill="#bdbdbd"/><rect x="1192.8" y="464.0" width="1.5" height="48.0" fill="#a1a1a1"/><rect x="1221.0" y="464.0" width="4.8" height="48.0" fill="#b5b5b5"/><rect x="1246.0" y="464.0" width="5.9" height="48.0" fill="#bdbdbd"/><rect x="1247.0" y="464.0" width="1.5" height="48.0" fill="#a1a1a1"/><rect x="1255.2" y="464.0" width="4.3" height="48.0" fill="#b5b5b5"/><rect x="1263.0" y="464.0" width="22.8" height="48.0" fill="#bdbdbd"/><rect x="1265.0" y="464.0" width="5.0" height="48.0" fill="#9f9f9f"/><rect x="1276.0" y="464.0" width="3.0" height="48.0" fill="#a1a1a1"/><rect x="1283.0" y="464.0" width="1.0" height="48.0" fill="#b0b0b0"/><rect x="1288.7" y="464.0" width="2.0" height="48.0" fill="#b5b5b5"/><rect x="1297.0" y="464.0" width="20.0" height="48.0" fill="#bdbdbd"/><rect x="1299.0" y="464.0" width="1.5" height="48.0" fill="#a7a7a7"/><rect x="1302.0" y="464.0" width="2.0" height="48.0" fill="#9f9f9f"/><rect x="1307.0" y="464.0" width="2.0" height="48.0" fill="#a7a7a7"/><rect x="1315.0" y="464.0" width="2.0" height="48.0" fill="#a1a1a1"/><rect x="1321.4" y="464.0" width="6.5" height="48.0" fill="#bebebe"/><rect x="1321.4" y="464.0" width="1.0" height="48.0" fill="#a2a2a2"/><rect x="1326.9" y="464.0" width="1.0" height="48.0" fill="#a2a2a2"/><rect x="1335.1" y="464.0" width="3.8" height="48.0" fill="#bdbdbd"/><rect x="1336.1" y="464.0" width="2.8" height="48.0" fill="#a3a3a3"/><rect x="1375.7" y="464.0" width="3.3" height="48.0" fill="#bdbdbd"/><rect x="1375.7" y="464.0" width="3.3" height="48.0" fill="#a3a3a3"/><rect x="1389.6" y="464.0" width="2.0" height="48.0" fill="#b5b5b5"/><rect x="1394.1" y="464.0" width="2.7" height="48.0" fill="#b5b5b5"/><rect x="1399.0" y="464.0" width="17.0" height="48.0" fill="#bebebe"/><rect x="1399.0" y="464.0" width="1.0" height="48.0" fill="#a2a2a2"/><rect x="1415.0" y="464.0" width="1.0" height="48.0" fill="#a2a2a2"/><rect x="1416.0" y="464.0" width="121.0" height="48.0" fill="#bdbdbd"/><rect x="1418.0" y="464.0" width="4.0" height="48.0" fill="#9f9f9f"/><rect x="1428.0" y="464.0" width="2.0" height="48.0" fill="#a1a1a1"/><rect x="1433.0" y="464.0" width="2.0" height="48.0" fill="#a4a4a4"/><rect x="1438.0" y="464.0" width="1.0" height="48.0" fill="#a7a7a7"/><rect x="1445.5" y="464.0" width="1.0" height="48.0" fill="#b0b0b0"/><rect x="1452.0" y="464.0" width="3.0" height="48.0" fill="#a1a1a1"/><rect x="1458.0" y="464.0" width="4.0" height="48.0" fill="#a3a3a3"/><rect x="1467.0" y="464.0" width="3.0" height="48.0" fill="#a4a4a4"/><rect x="1480.0" y="464.0" width="1.0" height="48.0" fill="#a7a7a7"/><rect x="1486.0" y="464.0" width="1.0" height="48.0" fill="#b0b0b0"/><rect x="1491.0" y="464.0" width="4.0" height="48.0" fill="#a7a7a7"/><rect x="1497.0" y="464.0" width="5.0" height="48.0" fill="#a7a7a7"/><rect x="1503.5" y="464.0" width="2.0" height="48.0" fill="#a1a1a1"/><rect x="1508.5" y="464.0" width="5.0" height="48.0" fill="#a4a4a4"/><rect x="1515.5" y="464.0" width="3.0" height="48.0" fill="#a3a3a3"/><rect x="1520.0" y="464.0" width="1.5" height="48.0" fill="#a1a1a1"/><rect x="1528.0" y="464.0" width="1.0" height="48.0" fill="#b0b0b0"/><rect x="1534.5" y="464.0" width="1.5" height="48.0" fill="#9f9f9f"/><rect x="1542.5" y="464.0" width="-5.5" height="48.0" fill="#b0b0b0"/><rect x="1537.0" y="464.0" width="27.0" height="48.0" fill="#bebebe"/><rect x="1537.0" y="464.0" width="1.0" height="48.0" fill="#a2a2a2"/><rect x="1563.0" y="464.0" width="1.0" height="48.0" fill="#a2a2a2"/><rect x="1564.0" y="464.0" width="257.2" height="48.0" fill="#bdbdbd"/><rect x="1564.0" y="464.0" width="4.0" height="48.0" fill="#a4a4a4"/><rect x="1572.0" y="464.0" width="3.0" height="48.0" fill="#a3a3a3"/><rect x="1580.0" y="464.0" width="5.0" height="48.0" fill="#a1a1a1"/><rect x="1587.0" y="464.0" width="5.0" height="48.0" fill="#a7a7a7"/><rect x="1596.0" y="464.0" width="1.0" height="48.0" fill="#b0b0b0"/><rect x="1600.0" y="464.0" width="1.5" height="48.0" fill="#a4a4a4"/><rect x="1603.5" y="464.0" width="3.0" height="48.0" fill="#9f9f9f"/><rect x="1614.5" y="464.0" width="2.0" height="48.0" fill="#a3a3a3"/><rect x="1618.0" y="464.0" width="2.0" height="48.0" fill="#a3a3a3"/><rect x="1625.0" y="464.0" width="2.0" height="48.0" fill="#a3a3a3"/><rect x="1628.5" y="464.0" width="6.0" height="48.0" fill="#9f9f9f"/><rect x="1636.5" y="464.0" width="3.0" height="48.0" fill="#a3a3a3"/><rect x="1644.5" y="464.0" width="2.0" height="48.0" fill="#9f9f9f"/><rect x="1649.5" y="464.0" width="6.0" height="48.0" fill="#a3a3a3"/><rect x="1660.5" y="464.0" width="1.0" height="48.0" fill="#b0b0b0"/><rect x="1665.5" y="464.0" width="2.0" height="48.0" fill="#a3a3a3"/><rect x="1670.5" y="464.0" width="2.0" height="48.0" fill="#a7a7a7"/><rect x="1675.5" y="464.0" width="2.0" height="48.0" fill="#a3a3a3"/><rect x="1681.5" y="464.0" width="1.0" height="48.0" fill="#b0b0b0"/><rect x="1685.5" y="464.0" width="1.0" height="48.0" fill="#a1a1a1"/><rect x="1690.5" y="464.0" width="5.0" height="48.0" fill="#9f9f9f"/><rect x="1698.5" y="464.0" width="3.0" height="48.0" fill="#a7a7a7"/><rect x="1706.5" y="464.0" width="3.0" height="48.0" fill="#a1a1a1"/><rect x="1712.5" y="464.0" width="1.5" height="48.0" fill="#a4a4a4"/><rect x="1718.0" y="464.0" width="1.0" height="48.0" fill="#b0b0b0"/><rect x="1722.0" y="464.0" width="2.0" height="48.0" fill="#a7a7a7"/><rect x="1737.0" y="464.0" width="1.0" height="48.0" fill="#a7a7a7"/><rect x="1743.0" y="464.0" width="1.5" height="48.0" fill="#a1a1a1"/><rect x="1750.5" y="464.0" width="2.0" height="48.0" fill="#a7a7a7"/><rect x="1755.5" y="464.0" width="4.0" height="48.0" fill="#9f9f9f"/><rect x="1761.5" y="464.0" width="4.0" height="48.0" fill="#a7a7a7"/><rect x="1771.5" y="464.0" width="1.5" height="48.0" fill="#a4a4a4"/><rect x="1776.0" y="464.0" width="2.0" height="48.0" fill="#a1a1a1"/><rect x="1781.0" y="464.0" width="5.0" height="48.0" fill="#a4a4a4"/><rect x="1799.0" y="464.0" width="5.0" height="48.0" fill="#9f9f9f"/><rect x="1807.0" y="464.0" width="6.0" height="48.0" fill="#a3a3a3"/><rect x="1816.0" y="464.0" width="1.0" height="48.0" fill="#a1a1a1"/><rect x="1819.0" y="464.0" width="2.2" height="48.0" fill="#a4a4a4"/><rect x="1821.2" y="464.0" width="40.6" height="48.0" fill="#96709f"/><rect x="1861.8" y="464.0" width="64.2" height="48.0" fill="#a4a4a4"/><rect x="1862.8" y="464.0" width="1.5" height="48.0" fill="#bcbcbc"/><rect x="1868.3" y="464.0" width="1.5" height="48.0" fill="#c0c0c0"/><rect x="1875.8" y="464.0" width="1.5" height="48.0" fill="#c0c0c0"/><rect x="1881.3" y="464.0" width="3.0" height="48.0" fill="#b2b2b2"/><rect x="1894.3" y="464.0" width="1.5" height="48.0" fill="#bcbcbc"/><rect x="1903.8" y="464.0" width="2.0" height="48.0" fill="#b2b2b2"/><rect x="1913.8" y="464.0" width="3.0" height="48.0" fill="#b2b2b2"/><rect x="1926.0" y="464.0" width="14.0" height="48.0" fill="url(#hatch)"/><rect x="1940.0" y="464.0" width="13.5" height="48.0" fill="#a4a4a4"/><rect x="1943.0" y="464.0" width="1.5" height="48.0" fill="#b8b8b8"/><rect x="1950.5" y="464.0" width="3.0" height="48.0" fill="#bcbcbc"/><rect x="1971.0" y="464.0" width="21.6" height="48.0" fill="#bebebe"/><rect x="1971.0" y="464.0" width="1.0" height="48.0" fill="#a2a2a2"/><rect x="1991.6" y="464.0" width="1.0" height="48.0" fill="#a2a2a2"/><rect x="1994.2" y="464.0" width="25.8" height="48.0" fill="#bdbdbd"/><rect x="1995.2" y="464.0" width="2.0" height="48.0" fill="#a3a3a3"/><rect x="1998.7" y="464.0" width="2.0" height="48.0" fill="#a4a4a4"/><rect x="2003.7" y="464.0" width="5.0" height="48.0" fill="#a3a3a3"/><rect x="2010.7" y="464.0" width="6.0" height="48.0" fill="#a1a1a1"/><rect x="2022.0" y="464.0" width="1.6" height="48.0" fill="#b5b5b5"/><rect x="2033.8" y="464.0" width="1.9" height="48.0" fill="#b5b5b5"/><text x="797.5" y="486.0" font-size="24" font-weight="400" fill="#e4e4e4" text-anchor="middle" style="font-family:'Roboto Condensed','Liberation Sans',sans-serif" textLength="34.50" lengthAdjust="spacingAndGlyphs" stroke="#e4e4e4" stroke-width="0.45">hy…</text><text x="797.5" y="506.0" font-size="20" font-weight="400" fill="#e4e4e4" text-anchor="middle" style="font-family:'Roboto Condensed','Liberation Sans',sans-serif" textLength="28.75" lengthAdjust="spacingAndGlyphs" stroke="#e4e4e4" stroke-width="0.45">hy…</text><text x="1170.0" y="486.0" font-size="24" font-weight="400" fill="#e4e4e4" text-anchor="middle" style="font-family:'Roboto Condensed','Liberation Sans',sans-serif" textLength="10.95" lengthAdjust="spacingAndGlyphs" stroke="#e4e4e4" stroke-width="0.45">s</text><text x="1170.0" y="506.0" font-size="20" font-weight="400" fill="#e4e4e4" text-anchor="middle" style="font-family:'Roboto Condensed','Liberation Sans',sans-serif" textLength="15.23" lengthAdjust="spacingAndGlyphs" stroke="#e4e4e4" stroke-width="0.45">W</text><text x="1551.0" y="486.0" font-size="24" font-weight="400" fill="#e4e4e4" text-anchor="middle" style="font-family:'Roboto Condensed','Liberation Sans',sans-serif" textLength="7.11" lengthAdjust="spacingAndGlyphs" stroke="#e4e4e4" stroke-width="0.45">t</text><text x="1551.0" y="506.0" font-size="20" font-weight="400" fill="#e4e4e4" text-anchor="middle" style="font-family:'Roboto Condensed','Liberation Sans',sans-serif" textLength="5.92" lengthAdjust="spacingAndGlyphs" stroke="#e4e4e4" stroke-width="0.45">t</text><text x="1841.5" y="486.0" font-size="24" font-weight="400" fill="#ffffff" text-anchor="middle" style="font-family:'Roboto Condensed','Liberation Sans',sans-serif" textLength="25.27" lengthAdjust="spacingAndGlyphs" stroke="#ffffff" stroke-width="0.45">c…</text><text x="1841.5" y="506.0" font-size="20" font-weight="400" fill="#dccfe0" text-anchor="middle" style="font-family:'Roboto Condensed','Liberation Sans',sans-serif" textLength="21.50" lengthAdjust="spacingAndGlyphs" stroke="#dccfe0" stroke-width="0.45">n…</text><rect x="505.2" y="524.0" width="32.8" height="48.0" fill="#bebebe"/><rect x="505.2" y="524.0" width="1.0" height="48.0" fill="#a2a2a2"/><rect x="537.0" y="524.0" width="1.0" height="48.0" fill="#a2a2a2"/><rect x="538.0" y="524.0" width="4.0" height="48.0" fill="#bdbdbd"/><rect x="540.0" y="524.0" width="2.0" height="48.0" fill="#a3a3a3"/><rect x="551.0" y="524.0" width="-9.0" height="48.0" fill="#b0b0b0"/><rect x="544.0" y="524.0" width="9.2" height="48.0" fill="#bdbdbd"/><rect x="544.0" y="524.0" width="6.0" height="48.0" fill="#a1a1a1"/><rect x="553.0" y="524.0" width="0.2" height="48.0" fill="#9f9f9f"/><rect x="581.2" y="524.0" width="12.1" height="48.0" fill="#bebebe"/><rect x="581.2" y="524.0" width="1.0" height="48.0" fill="#a2a2a2"/><rect x="592.3" y="524.0" width="1.0" height="48.0" fill="#a2a2a2"/><rect x="609.0" y="524.0" width="7.4" height="48.0" fill="#bebebe"/><rect x="609.0" y="524.0" width="1.0" height="48.0" fill="#a2a2a2"/><rect x="615.4" y="524.0" width="1.0" height="48.0" fill="#a2a2a2"/><rect x="618.0" y="524.0" width="4.7" height="48.0" fill="#b5b5b5"/><rect x="624.3" y="524.0" width="7.7" height="48.0" fill="#bebebe"/><rect x="624.3" y="524.0" width="1.0" height="48.0" fill="#a2a2a2"/><rect x="631.0" y="524.0" width="1.0" height="48.0" fill="#a2a2a2"/><rect x="672.3" y="524.0" width="9.2" height="48.0" fill="#bebebe"/><rect x="672.3" y="524.0" width="1.0" height="48.0" fill="#a2a2a2"/><rect x="680.5" y="524.0" width="1.0" height="48.0" fill="#a2a2a2"/><rect x="683.0" y="524.0" width="9.8" height="48.0" fill="#bdbdbd"/><rect x="683.0" y="524.0" width="6.0" height="48.0" fill="#a7a7a7"/><rect x="694.0" y="524.0" width="-1.2" height="48.0" fill="#b0b0b0"/><rect x="698.7" y="524.0" width="33.7" height="48.0" fill="#bdbdbd"/><rect x="698.7" y="524.0" width="5.0" height="48.0" fill="#9f9f9f"/><rect x="716.7" y="524.0" width="6.0" height="48.0" fill="#a4a4a4"/><rect x="726.7" y="524.0" width="5.0" height="48.0" fill="#a3a3a3"/><rect x="736.0" y="524.0" width="23.0" height="48.0" fill="#bdbdbd"/><rect x="738.0" y="524.0" width="2.0" height="48.0" fill="#a3a3a3"/><rect x="744.0" y="524.0" width="6.0" height="48.0" fill="#a4a4a4"/><rect x="754.0" y="524.0" width="1.0" height="48.0" fill="#b0b0b0"/><rect x="758.0" y="524.0" width="1.0" height="48.0" fill="#a7a7a7"/><rect x="763.5" y="524.0" width="-4.5" height="48.0" fill="#b0b0b0"/><rect x="766.5" y="524.0" width="4.5" height="48.0" fill="#b5b5b5"/><rect x="783.5" y="524.0" width="26.5" height="48.0" fill="#bebebe"/><rect x="783.5" y="524.0" width="1.0" height="48.0" fill="#a2a2a2"/><rect x="809.0" y="524.0" width="1.0" height="48.0" fill="#a2a2a2"/><rect x="810.0" y="524.0" width="26.2" height="48.0" fill="#bdbdbd"/><rect x="812.0" y="524.0" width="2.0" height="48.0" fill="#a7a7a7"/><rect x="816.0" y="524.0" width="2.0" height="48.0" fill="#9f9f9f"/><rect x="820.0" y="524.0" width="2.0" height="48.0" fill="#9f9f9f"/><rect x="825.0" y="524.0" width="3.0" height="48.0" fill="#a4a4a4"/><rect x="832.0" y="524.0" width="1.0" height="48.0" fill="#b0b0b0"/><rect x="836.0" y="524.0" width="0.2" height="48.0" fill="#a7a7a7"/><rect x="841.5" y="524.0" width="-5.3" height="48.0" fill="#b0b0b0"/><rect x="839.2" y="524.0" width="17.2" height="48.0" fill="#bdbdbd"/><rect x="841.2" y="524.0" width="2.0" height="48.0" fill="#a4a4a4"/><rect x="849.2" y="524.0" width="4.0" height="48.0" fill="#9f9f9f"/><rect x="856.2" y="524.0" width="0.2" height="48.0" fill="#b0b0b0"/><rect x="865.2" y="524.0" width="3.5" height="48.0" fill="#b5b5b5"/><rect x="901.0" y="524.0" width="24.7" height="48.0" fill="#bdbdbd"/><rect x="902.0" y="524.0" width="1.5" height="48.0" fill="#9f9f9f"/><rect x="905.0" y="524.0" width="3.0" height="48.0" fill="#a3a3a3"/><rect x="912.0" y="524.0" width="1.0" height="48.0" fill="#b0b0b0"/><rect x="916.0" y="524.0" width="1.0" height="48.0" fill="#a7a7a7"/><rect x="922.0" y="524.0" width="3.7" height="48.0" fill="#a3a3a3"/><rect x="929.0" y="524.0" width="3.0" height="48.0" fill="#b5b5b5"/><rect x="935.1" y="524.0" width="18.9" height="48.0" fill="#bdbdbd"/><rect x="937.1" y="524.0" width="1.5" height="48.0" fill="#a1a1a1"/><rect x="941.6" y="524.0" width="1.5" height="48.0" fill="#a1a1a1"/><rect x="947.1" y="524.0" width="3.0" height="48.0" fill="#a1a1a1"/><rect x="953.1" y="524.0" width="0.9" height="48.0" fill="#a4a4a4"/><rect x="1023.1" y="524.0" width="4.7" height="48.0" fill="#b5b5b5"/><rect x="1096.0" y="524.0" width="8.8" height="48.0" fill="#bdbdbd"/><rect x="1098.0" y="524.0" width="3.0" height="48.0" fill="#a7a7a7"/><rect x="1104.0" y="524.0" width="0.8" height="48.0" fill="#a3a3a3"/><rect x="1116.5" y="524.0" width="-11.7" height="48.0" fill="#b0b0b0"/><rect x="1133.2" y="524.0" width="10.4" height="48.0" fill="#bdbdbd"/><rect x="1134.2" y="524.0" width="1.5" height="48.0" fill="#9f9f9f"/><rect x="1137.2" y="524.0" width="2.0" height="48.0" fill="#a7a7a7"/><rect x="1141.2" y="524.0" width="2.4" height="48.0" fill="#a1a1a1"/><rect x="1184.1" y="524.0" width="15.9" height="48.0" fill="#bebebe"/><rect x="1184.1" y="524.0" width="1.0" height="48.0" fill="#a2a2a2"/><rect x="1199.0" y="524.0" width="1.0" height="48.0" fill="#a2a2a2"/><rect x="1200.0" y="524.0" width="6.8" height="48.0" fill="#bdbdbd"/><rect x="1201.0" y="524.0" width="1.5" height="48.0" fill="#a3a3a3"/><rect x="1205.5" y="524.0" width="1.3" height="48.0" fill="#9f9f9f"/><rect x="1213.5" y="524.0" width="15.3" height="48.0" fill="#bdbdbd"/><rect x="1214.5" y="524.0" width="1.0" height="48.0" fill="#9f9f9f"/><rect x="1220.5" y="524.0" width="1.0" height="48.0" fill="#b0b0b0"/><rect x="1225.5" y="524.0" width="3.0" height="48.0" fill="#a3a3a3"/><rect x="1233.3" y="524.0" width="3.3" height="48.0" fill="#b5b5b5"/><rect x="1242.9" y="524.0" width="19.6" height="48.0" fill="#bdbdbd"/><rect x="1242.9" y="524.0" width="6.0" height="48.0" fill="#a4a4a4"/><rect x="1250.9" y="524.0" width="2.0" height="48.0" fill="#9f9f9f"/><rect x="1254.4" y="524.0" width="2.0" height="48.0" fill="#a4a4a4"/><rect x="1260.4" y="524.0" width="2.1" height="48.0" fill="#a3a3a3"/><rect x="1321.6" y="524.0" width="8.2" height="48.0" fill="#bdbdbd"/><rect x="1322.6" y="524.0" width="5.0" height="48.0" fill="#a3a3a3"/><rect x="1335.3" y="524.0" width="4.9" height="48.0" fill="#bdbdbd"/><rect x="1336.3" y="524.0" width="3.0" height="48.0" fill="#a1a1a1"/><rect x="1344.5" y="524.0" width="1.5" height="48.0" fill="#b4b4b4"/><rect x="1347.0" y="524.0" width="4.0" height="48.0" fill="#a8a8a8"/><rect x="1352.5" y="524.0" width="4.0" height="48.0" fill="#bdbdbd"/><rect x="1358.0" y="524.0" width="3.0" height="48.0" fill="#b4b4b4"/><rect x="1364.0" y="524.0" width="3.0" height="48.0" fill="#a8a8a8"/><rect x="1370.0" y="524.0" width="4.0" height="48.0" fill="#bdbdbd"/><rect x="1375.5" y="524.0" width="2.0" height="48.0" fill="#bdbdbd"/><rect x="1379.0" y="524.0" width="2.0" height="48.0" fill="#bdbdbd"/><rect x="1383.0" y="524.0" width="1.5" height="48.0" fill="#b4b4b4"/><rect x="1385.5" y="524.0" width="1.5" height="48.0" fill="#a8a8a8"/><rect x="1389.0" y="524.0" width="3.0" height="48.0" fill="#b4b4b4"/><rect x="1393.0" y="524.0" width="1.5" height="48.0" fill="#a8a8a8"/><rect x="1397.5" y="524.0" width="4.0" height="48.0" fill="#a8a8a8"/><rect x="1405.3" y="524.0" width="10.9" height="48.0" fill="#bebebe"/><rect x="1405.3" y="524.0" width="1.0" height="48.0" fill="#a2a2a2"/><rect x="1415.2" y="524.0" width="1.0" height="48.0" fill="#a2a2a2"/><rect x="1416.2" y="524.0" width="2.6" height="48.0" fill="#a2a2a2"/><rect x="1418.8" y="524.0" width="48.5" height="48.0" fill="#bebebe"/><rect x="1418.8" y="524.0" width="1.0" height="48.0" fill="#a2a2a2"/><rect x="1466.3" y="524.0" width="1.0" height="48.0" fill="#a2a2a2"/><rect x="1467.3" y="524.0" width="2.7" height="48.0" fill="#a2a2a2"/><rect x="1470.0" y="524.0" width="4.4" height="48.0" fill="#b5b5b5"/><rect x="1474.4" y="524.0" width="1.3" height="48.0" fill="#a6a6a6"/><rect x="1475.7" y="524.0" width="53.3" height="48.0" fill="#bebebe"/><rect x="1475.7" y="524.0" width="1.0" height="48.0" fill="#a2a2a2"/><rect x="1528.0" y="524.0" width="1.0" height="48.0" fill="#a2a2a2"/><rect x="1542.8" y="524.0" width="39.2" height="48.0" fill="#bdbdbd"/><rect x="1544.8" y="524.0" width="2.0" height="48.0" fill="#9f9f9f"/><rect x="1548.3" y="524.0" width="5.0" height="48.0" fill="#a4a4a4"/><rect x="1556.3" y="524.0" width="3.0" height="48.0" fill="#a7a7a7"/><rect x="1560.8" y="524.0" width="3.0" height="48.0" fill="#9f9f9f"/><rect x="1568.8" y="524.0" width="6.0" height="48.0" fill="#9f9f9f"/><rect x="1577.8" y="524.0" width="1.0" height="48.0" fill="#9f9f9f"/><rect x="1581.8" y="524.0" width="0.2" height="48.0" fill="#a4a4a4"/><rect x="1582.0" y="524.0" width="28.0" height="48.0" fill="#bebebe"/><rect x="1582.0" y="524.0" width="1.0" height="48.0" fill="#a2a2a2"/><rect x="1609.0" y="524.0" width="1.0" height="48.0" fill="#a2a2a2"/><rect x="1610.0" y="524.0" width="226.0" height="48.0" fill="#bdbdbd"/><rect x="1611.0" y="524.0" width="4.0" height="48.0" fill="#a1a1a1"/><rect x="1619.0" y="524.0" width="1.0" height="48.0" fill="#b0b0b0"/><rect x="1623.0" y="524.0" width="2.0" height="48.0" fill="#a4a4a4"/><rect x="1635.0" y="524.0" width="1.5" height="48.0" fill="#9f9f9f"/><rect x="1638.5" y="524.0" width="2.0" height="48.0" fill="#a7a7a7"/><rect x="1647.0" y="524.0" width="1.0" height="48.0" fill="#b0b0b0"/><rect x="1653.5" y="524.0" width="1.0" height="48.0" fill="#9f9f9f"/><rect x="1658.5" y="524.0" width="2.0" height="48.0" fill="#a1a1a1"/><rect x="1673.5" y="524.0" width="2.0" height="48.0" fill="#a3a3a3"/><rect x="1681.5" y="524.0" width="5.0" height="48.0" fill="#a4a4a4"/><rect x="1690.5" y="524.0" width="2.0" height="48.0" fill="#a1a1a1"/><rect x="1702.5" y="524.0" width="6.0" height="48.0" fill="#a4a4a4"/><rect x="1718.5" y="524.0" width="1.0" height="48.0" fill="#a3a3a3"/><rect x="1722.5" y="524.0" width="1.5" height="48.0" fill="#a1a1a1"/><rect x="1725.5" y="524.0" width="2.0" height="48.0" fill="#9f9f9f"/><rect x="1729.5" y="524.0" width="4.0" height="48.0" fill="#a7a7a7"/><rect x="1738.5" y="524.0" width="1.0" height="48.0" fill="#b0b0b0"/><rect x="1743.5" y="524.0" width="1.0" height="48.0" fill="#a3a3a3"/><rect x="1747.5" y="524.0" width="5.0" height="48.0" fill="#9f9f9f"/><rect x="1754.0" y="524.0" width="5.0" height="48.0" fill="#a1a1a1"/><rect x="1769.0" y="524.0" width="1.5" height="48.0" fill="#a3a3a3"/><rect x="1772.5" y="524.0" width="5.0" height="48.0" fill="#9f9f9f"/><rect x="1779.5" y="524.0" width="3.0" height="48.0" fill="#a4a4a4"/><rect x="1785.5" y="524.0" width="2.0" height="48.0" fill="#a7a7a7"/><rect x="1795.5" y="524.0" width="1.5" height="48.0" fill="#a7a7a7"/><rect x="1801.0" y="524.0" width="1.0" height="48.0" fill="#a3a3a3"/><rect x="1805.0" y="524.0" width="1.5" height="48.0" fill="#a3a3a3"/><rect x="1809.5" y="524.0" width="3.0" height="48.0" fill="#9f9f9f"/><rect x="1816.5" y="524.0" width="2.0" height="48.0" fill="#a1a1a1"/><rect x="1822.5" y="524.0" width="1.0" height="48.0" fill="#b0b0b0"/><rect x="1826.5" y="524.0" width="3.0" height="48.0" fill="#a1a1a1"/><rect x="1832.5" y="524.0" width="3.5" height="48.0" fill="#9f9f9f"/><rect x="1842.5" y="524.0" width="-6.5" height="48.0" fill="#b0b0b0"/><rect x="1836.0" y="524.0" width="6.0" height="48.0" fill="url(#hatch)"/><rect x="1842.0" y="524.0" width="105.6" height="48.0" fill="#bdbdbd"/><rect x="1843.0" y="524.0" width="5.0" height="48.0" fill="#a1a1a1"/><rect x="1853.0" y="524.0" width="1.0" height="48.0" fill="#b0b0b0"/><rect x="1858.0" y="524.0" width="1.5" height="48.0" fill="#a7a7a7"/><rect x="1861.0" y="524.0" width="3.0" height="48.0" fill="#a7a7a7"/><rect x="1866.0" y="524.0" width="6.0" height="48.0" fill="#a7a7a7"/><rect x="1876.0" y="524.0" width="4.0" height="48.0" fill="#a4a4a4"/><rect x="1883.0" y="524.0" width="1.5" height="48.0" fill="#a3a3a3"/><rect x="1886.5" y="524.0" width="2.0" height="48.0" fill="#a3a3a3"/><rect x="1892.5" y="524.0" width="3.0" height="48.0" fill="#a4a4a4"/><rect x="1908.5" y="524.0" width="6.0" height="48.0" fill="#9f9f9f"/><rect x="1916.5" y="524.0" width="3.0" height="48.0" fill="#a4a4a4"/><rect x="1927.5" y="524.0" width="5.0" height="48.0" fill="#a7a7a7"/><rect x="1934.0" y="524.0" width="2.0" height="48.0" fill="#a1a1a1"/><rect x="1944.0" y="524.0" width="3.6" height="48.0" fill="#9f9f9f"/><rect x="1949.2" y="524.0" width="24.2" height="48.0" fill="#bebebe"/><rect x="1949.2" y="524.0" width="1.0" height="48.0" fill="#a2a2a2"/><rect x="1972.4" y="524.0" width="1.0" height="48.0" fill="#a2a2a2"/><rect x="1980.3" y="524.0" width="22.5" height="48.0" fill="#bdbdbd"/><rect x="1981.3" y="524.0" width="3.0" height="48.0" fill="#a7a7a7"/><rect x="1989.3" y="524.0" width="1.5" height="48.0" fill="#9f9f9f"/><rect x="1992.3" y="524.0" width="3.0" height="48.0" fill="#9f9f9f"/><rect x="1998.3" y="524.0" width="1.0" height="48.0" fill="#b0b0b0"/><rect x="2001.3" y="524.0" width="1.5" height="48.0" fill="#a1a1a1"/><rect x="2009.3" y="524.0" width="32.7" height="48.0" fill="#bebebe"/><rect x="2009.3" y="524.0" width="1.0" height="48.0" fill="#a2a2a2"/><rect x="2041.0" y="524.0" width="1.0" height="48.0" fill="#a2a2a2"/><text x="522.4" y="546.0" font-size="24" font-weight="400" fill="#e4e4e4" text-anchor="middle" style="font-family:'Roboto Condensed','Liberation Sans',sans-serif" textLength="25.77" lengthAdjust="spacingAndGlyphs" stroke="#e4e4e4" stroke-width="0.45">h…</text><text x="522.4" y="566.0" font-size="20" font-weight="400" fill="#e4e4e4" text-anchor="middle" style="font-family:'Roboto Condensed','Liberation Sans',sans-serif" textLength="21.47" lengthAdjust="spacingAndGlyphs" stroke="#e4e4e4" stroke-width="0.45">h…</text><text x="797.6" y="546.0" font-size="24" font-weight="400" fill="#e4e4e4" text-anchor="middle" style="font-family:'Roboto Condensed','Liberation Sans',sans-serif" textLength="11.09" lengthAdjust="spacingAndGlyphs" stroke="#e4e4e4" stroke-width="0.45">c</text><text x="797.6" y="566.0" font-size="20" font-weight="400" fill="#e4e4e4" text-anchor="middle" style="font-family:'Roboto Condensed','Liberation Sans',sans-serif" textLength="11.42" lengthAdjust="spacingAndGlyphs" stroke="#e4e4e4" stroke-width="0.45">D</text><text x="1442.8" y="546.0" font-size="24" font-weight="400" fill="#e4e4e4" text-anchor="middle" style="font-family:'Roboto Condensed','Liberation Sans',sans-serif" textLength="33.86" lengthAdjust="spacingAndGlyphs" stroke="#e4e4e4" stroke-width="0.45">sy…</text><text x="1442.8" y="566.0" font-size="20" font-weight="400" fill="#e4e4e4" text-anchor="middle" style="font-family:'Roboto Condensed','Liberation Sans',sans-serif" textLength="33.70" lengthAdjust="spacingAndGlyphs" stroke="#e4e4e4" stroke-width="0.45">Op…</text><text x="1501.9" y="546.0" font-size="24" font-weight="400" fill="#e4e4e4" text-anchor="middle" style="font-family:'Roboto Condensed','Liberation Sans',sans-serif" textLength="33.86" lengthAdjust="spacingAndGlyphs" stroke="#e4e4e4" stroke-width="0.45">sy…</text><text x="1501.9" y="566.0" font-size="20" font-weight="400" fill="#e4e4e4" text-anchor="middle" style="font-family:'Roboto Condensed','Liberation Sans',sans-serif" textLength="33.70" lengthAdjust="spacingAndGlyphs" stroke="#e4e4e4" stroke-width="0.45">Op…</text><text x="1595.3" y="546.0" font-size="24" font-weight="400" fill="#e4e4e4" text-anchor="middle" style="font-family:'Roboto Condensed','Liberation Sans',sans-serif" textLength="7.31" lengthAdjust="spacingAndGlyphs" stroke="#e4e4e4" stroke-width="0.45">r</text><text x="1595.3" y="566.0" font-size="20" font-weight="400" fill="#e4e4e4" text-anchor="middle" style="font-family:'Roboto Condensed','Liberation Sans',sans-serif" textLength="6.09" lengthAdjust="spacingAndGlyphs" stroke="#e4e4e4" stroke-width="0.45">r</text><text x="2036.0" y="546.0" font-size="24" font-weight="400" fill="#e4e4e4" text-anchor="middle" style="font-family:'Roboto Condensed','Liberation Sans',sans-serif" textLength="11.02" lengthAdjust="spacingAndGlyphs" stroke="#e4e4e4" stroke-width="0.45">li</text><text x="2036.0" y="566.0" font-size="20" font-weight="400" fill="#e4e4e4" text-anchor="middle" style="font-family:'Roboto Condensed','Liberation Sans',sans-serif" textLength="5.92" lengthAdjust="spacingAndGlyphs" stroke="#e4e4e4" stroke-width="0.45">t</text><rect x="534.8" y="584.0" width="1.7" height="48.0" fill="#b5b5b5"/><rect x="550.0" y="584.0" width="4.7" height="48.0" fill="#b5b5b5"/><rect x="571.8" y="584.0" width="10.8" height="48.0" fill="#bebebe"/><rect x="571.8" y="584.0" width="1.0" height="48.0" fill="#a2a2a2"/><rect x="581.6" y="584.0" width="1.0" height="48.0" fill="#a2a2a2"/><rect x="584.1" y="584.0" width="3.0" height="48.0" fill="#b5b5b5"/><rect x="592.0" y="584.0" width="12.1" height="48.0" fill="#bebebe"/><rect x="592.0" y="584.0" width="1.0" height="48.0" fill="#a2a2a2"/><rect x="603.1" y="584.0" width="1.0" height="48.0" fill="#a2a2a2"/><rect x="607.2" y="584.0" width="12.6" height="48.0" fill="#bebebe"/><rect x="607.2" y="584.0" width="1.0" height="48.0" fill="#a2a2a2"/><rect x="618.8" y="584.0" width="1.0" height="48.0" fill="#a2a2a2"/><rect x="635.0" y="584.0" width="10.8" height="48.0" fill="#bebebe"/><rect x="635.0" y="584.0" width="1.0" height="48.0" fill="#a2a2a2"/><rect x="644.8" y="584.0" width="1.0" height="48.0" fill="#a2a2a2"/><rect x="649.2" y="584.0" width="7.6" height="48.0" fill="#bebebe"/><rect x="649.2" y="584.0" width="1.0" height="48.0" fill="#a2a2a2"/><rect x="655.8" y="584.0" width="1.0" height="48.0" fill="#a2a2a2"/><rect x="660.0" y="584.0" width="7.8" height="48.0" fill="#bebebe"/><rect x="660.0" y="584.0" width="1.0" height="48.0" fill="#a2a2a2"/><rect x="666.8" y="584.0" width="1.0" height="48.0" fill="#a2a2a2"/><rect x="669.1" y="584.0" width="4.7" height="48.0" fill="#b5b5b5"/><rect x="677.2" y="584.0" width="77.8" height="48.0" fill="#bebebe"/><rect x="677.2" y="584.0" width="1.0" height="48.0" fill="#a2a2a2"/><rect x="754.0" y="584.0" width="1.0" height="48.0" fill="#a2a2a2"/><rect x="755.0" y="584.0" width="39.3" height="48.0" fill="#bdbdbd"/><rect x="756.0" y="584.0" width="3.0" height="48.0" fill="#a1a1a1"/><rect x="762.0" y="584.0" width="1.0" height="48.0" fill="#b0b0b0"/><rect x="765.0" y="584.0" width="1.5" height="48.0" fill="#9f9f9f"/><rect x="772.5" y="584.0" width="1.0" height="48.0" fill="#9f9f9f"/><rect x="775.5" y="584.0" width="1.0" height="48.0" fill="#9f9f9f"/><rect x="779.5" y="584.0" width="2.0" height="48.0" fill="#9f9f9f"/><rect x="787.5" y="584.0" width="2.0" height="48.0" fill="#9f9f9f"/><rect x="810.0" y="584.0" width="3.0" height="48.0" fill="#a8a8a8"/><rect x="814.5" y="584.0" width="1.5" height="48.0" fill="#b4b4b4"/><rect x="819.0" y="584.0" width="3.0" height="48.0" fill="#a8a8a8"/><rect x="822.0" y="584.0" width="86.9" height="48.0" fill="#bebebe"/><rect x="822.0" y="584.0" width="1.0" height="48.0" fill="#a2a2a2"/><rect x="907.9" y="584.0" width="1.0" height="48.0" fill="#a2a2a2"/><rect x="913.4" y="584.0" width="31.3" height="48.0" fill="#bdbdbd"/><rect x="915.4" y="584.0" width="3.0" height="48.0" fill="#a7a7a7"/><rect x="919.9" y="584.0" width="6.0" height="48.0" fill="#a4a4a4"/><rect x="928.9" y="584.0" width="5.0" height="48.0" fill="#a7a7a7"/><rect x="938.9" y="584.0" width="3.0" height="48.0" fill="#9f9f9f"/><rect x="946.1" y="584.0" width="10.8" height="48.0" fill="#bdbdbd"/><rect x="948.1" y="584.0" width="3.0" height="48.0" fill="#a7a7a7"/><rect x="954.1" y="584.0" width="2.8" height="48.0" fill="#a7a7a7"/><rect x="961.4" y="584.0" width="20.6" height="48.0" fill="#bdbdbd"/><rect x="961.4" y="584.0" width="2.0" height="48.0" fill="#a4a4a4"/><rect x="965.4" y="584.0" width="2.0" height="48.0" fill="#a3a3a3"/><rect x="975.4" y="584.0" width="5.0" height="48.0" fill="#9f9f9f"/><rect x="984.4" y="584.0" width="-2.4" height="48.0" fill="#b0b0b0"/><rect x="984.5" y="584.0" width="6.3" height="48.0" fill="#bdbdbd"/><rect x="986.5" y="584.0" width="2.0" height="48.0" fill="#a4a4a4"/><rect x="990.5" y="584.0" width="0.3" height="48.0" fill="#9f9f9f"/><rect x="997.5" y="584.0" width="-6.7" height="48.0" fill="#b0b0b0"/><rect x="994.1" y="584.0" width="2.9" height="48.0" fill="#b5b5b5"/><rect x="1009.0" y="584.0" width="3.3" height="48.0" fill="#b5b5b5"/><rect x="1024.5" y="584.0" width="3.5" height="48.0" fill="#b5b5b5"/><rect x="1031.0" y="584.0" width="7.8" height="48.0" fill="#bdbdbd"/><rect x="1031.0" y="584.0" width="3.0" height="48.0" fill="#9f9f9f"/><rect x="1040.5" y="584.0" width="-1.7" height="48.0" fill="#b0b0b0"/><rect x="1049.2" y="584.0" width="1.5" height="48.0" fill="#a8a8a8"/><rect x="1053.7" y="584.0" width="0.7" height="48.0" fill="#bdbdbd"/><rect x="1081.9" y="584.0" width="55.4" height="48.0" fill="#bdbdbd"/><rect x="1082.9" y="584.0" width="3.0" height="48.0" fill="#9f9f9f"/><rect x="1087.4" y="584.0" width="5.0" height="48.0" fill="#9f9f9f"/><rect x="1105.4" y="584.0" width="2.0" height="48.0" fill="#a3a3a3"/><rect x="1117.4" y="584.0" width="2.0" height="48.0" fill="#a1a1a1"/><rect x="1123.4" y="584.0" width="2.0" height="48.0" fill="#a7a7a7"/><rect x="1131.4" y="584.0" width="4.0" height="48.0" fill="#9f9f9f"/><rect x="1136.9" y="584.0" width="0.4" height="48.0" fill="#a1a1a1"/><rect x="1157.9" y="584.0" width="2.9" height="48.0" fill="#b5b5b5"/><rect x="1162.2" y="584.0" width="9.8" height="48.0" fill="#bdbdbd"/><rect x="1163.2" y="584.0" width="5.0" height="48.0" fill="#a1a1a1"/><rect x="1170.2" y="584.0" width="1.8" height="48.0" fill="#a3a3a3"/><rect x="1187.2" y="584.0" width="5.3" height="48.0" fill="#bebebe"/><rect x="1195.1" y="584.0" width="2.9" height="48.0" fill="#b5b5b5"/><rect x="1201.0" y="584.0" width="13.0" height="48.0" fill="#bdbdbd"/><rect x="1201.0" y="584.0" width="1.5" height="48.0" fill="#a4a4a4"/><rect x="1205.5" y="584.0" width="2.0" height="48.0" fill="#a3a3a3"/><rect x="1209.5" y="584.0" width="4.5" height="48.0" fill="#a1a1a1"/><rect x="1214.0" y="584.0" width="20.0" height="48.0" fill="#bebebe"/><rect x="1214.0" y="584.0" width="1.0" height="48.0" fill="#a2a2a2"/><rect x="1233.0" y="584.0" width="1.0" height="48.0" fill="#a2a2a2"/><rect x="1234.0" y="584.0" width="1.5" height="48.0" fill="#a4a4a4"/><rect x="1235.5" y="584.0" width="9.5" height="48.0" fill="#bebebe"/><rect x="1235.5" y="584.0" width="1.0" height="48.0" fill="#a2a2a2"/><rect x="1244.0" y="584.0" width="1.0" height="48.0" fill="#a2a2a2"/><rect x="1245.0" y="584.0" width="1.5" height="48.0" fill="#a4a4a4"/><rect x="1246.5" y="584.0" width="135.5" height="48.0" fill="#bebebe"/><rect x="1246.5" y="584.0" width="1.0" height="48.0" fill="#a2a2a2"/><rect x="1381.0" y="584.0" width="1.0" height="48.0" fill="#a2a2a2"/><rect x="1382.0" y="584.0" width="3.0" height="48.0" fill="#a2a2a2"/><rect x="1385.0" y="584.0" width="20.0" height="48.0" fill="#bebebe"/><rect x="1385.0" y="584.0" width="1.0" height="48.0" fill="#a2a2a2"/><rect x="1404.0" y="584.0" width="1.0" height="48.0" fill="#a2a2a2"/><rect x="1405.0" y="584.0" width="8.0" height="48.0" fill="#bdbdbd"/><rect x="1405.0" y="584.0" width="2.0" height="48.0" fill="#a4a4a4"/><rect x="1413.0" y="584.0" width="51.0" height="48.0" fill="#bebebe"/><rect x="1413.0" y="584.0" width="1.0" height="48.0" fill="#a2a2a2"/><rect x="1463.0" y="584.0" width="1.0" height="48.0" fill="#a2a2a2"/><rect x="1464.0" y="584.0" width="4.0" height="48.0" fill="#a2a2a2"/><rect x="1468.0" y="584.0" width="52.0" height="48.0" fill="#bebebe"/><rect x="1468.0" y="584.0" width="1.0" height="48.0" fill="#a2a2a2"/><rect x="1519.0" y="584.0" width="1.0" height="48.0" fill="#a2a2a2"/><rect x="1520.0" y="584.0" width="29.0" height="48.0" fill="#bebebe"/><rect x="1520.0" y="584.0" width="1.0" height="48.0" fill="#a2a2a2"/><rect x="1548.0" y="584.0" width="1.0" height="48.0" fill="#a2a2a2"/><rect x="1549.0" y="584.0" width="397.0" height="48.0" fill="#bdbdbd"/><rect x="1551.0" y="584.0" width="3.0" height="48.0" fill="#a4a4a4"/><rect x="1558.0" y="584.0" width="6.0" height="48.0" fill="#a7a7a7"/><rect x="1566.0" y="584.0" width="1.5" height="48.0" fill="#a1a1a1"/><rect x="1571.5" y="584.0" width="6.0" height="48.0" fill="#a3a3a3"/><rect x="1580.5" y="584.0" width="4.0" height="48.0" fill="#9f9f9f"/><rect x="1587.5" y="584.0" width="1.0" height="48.0" fill="#a1a1a1"/><rect x="1593.5" y="584.0" width="1.0" height="48.0" fill="#b0b0b0"/><rect x="1598.5" y="584.0" width="5.0" height="48.0" fill="#9f9f9f"/><rect x="1608.5" y="584.0" width="2.0" height="48.0" fill="#a7a7a7"/><rect x="1615.5" y="584.0" width="1.0" height="48.0" fill="#b0b0b0"/><rect x="1620.5" y="584.0" width="2.0" height="48.0" fill="#a1a1a1"/><rect x="1628.5" y="584.0" width="3.0" height="48.0" fill="#a1a1a1"/><rect x="1633.0" y="584.0" width="2.0" height="48.0" fill="#a7a7a7"/><rect x="1638.0" y="584.0" width="1.0" height="48.0" fill="#b0b0b0"/><rect x="1641.0" y="584.0" width="2.0" height="48.0" fill="#a7a7a7"/><rect x="1648.0" y="584.0" width="2.0" height="48.0" fill="#a7a7a7"/><rect x="1651.5" y="584.0" width="3.0" height="48.0" fill="#a7a7a7"/><rect x="1659.5" y="584.0" width="4.0" height="48.0" fill="#a4a4a4"/><rect x="1665.0" y="584.0" width="3.0" height="48.0" fill="#a3a3a3"/><rect x="1670.0" y="584.0" width="2.0" height="48.0" fill="#a7a7a7"/><rect x="1675.0" y="584.0" width="3.0" height="48.0" fill="#a4a4a4"/><rect x="1681.0" y="584.0" width="5.0" height="48.0" fill="#a4a4a4"/><rect x="1690.0" y="584.0" width="3.0" height="48.0" fill="#a1a1a1"/><rect x="1699.5" y="584.0" width="1.0" height="48.0" fill="#b0b0b0"/><rect x="1706.0" y="584.0" width="2.0" height="48.0" fill="#a4a4a4"/><rect x="1712.0" y="584.0" width="1.0" height="48.0" fill="#b0b0b0"/><rect x="1716.0" y="584.0" width="1.0" height="48.0" fill="#a3a3a3"/><rect x="1720.0" y="584.0" width="4.0" height="48.0" fill="#a1a1a1"/><rect x="1727.0" y="584.0" width="1.0" height="48.0" fill="#a3a3a3"/><rect x="1731.0" y="584.0" width="4.0" height="48.0" fill="#a1a1a1"/><rect x="1736.5" y="584.0" width="2.0" height="48.0" fill="#a7a7a7"/><rect x="1746.5" y="584.0" width="3.0" height="48.0" fill="#a1a1a1"/><rect x="1751.5" y="584.0" width="2.0" height="48.0" fill="#9f9f9f"/><rect x="1756.5" y="584.0" width="2.0" height="48.0" fill="#a3a3a3"/><rect x="1762.5" y="584.0" width="1.0" height="48.0" fill="#b0b0b0"/><rect x="1766.5" y="584.0" width="4.0" height="48.0" fill="#9f9f9f"/><rect x="1775.5" y="584.0" width="5.0" height="48.0" fill="#a4a4a4"/><rect x="1782.5" y="584.0" width="1.0" height="48.0" fill="#a1a1a1"/><rect x="1787.5" y="584.0" width="1.5" height="48.0" fill="#9f9f9f"/><rect x="1795.0" y="584.0" width="1.5" height="48.0" fill="#a3a3a3"/><rect x="1799.5" y="584.0" width="4.0" height="48.0" fill="#9f9f9f"/><rect x="1807.5" y="584.0" width="4.0" height="48.0" fill="#a1a1a1"/><rect x="1813.0" y="584.0" width="5.0" height="48.0" fill="#a4a4a4"/><rect x="1823.0" y="584.0" width="6.0" height="48.0" fill="#a7a7a7"/><rect x="1832.0" y="584.0" width="3.0" height="48.0" fill="#9f9f9f"/><rect x="1839.0" y="584.0" width="1.0" height="48.0" fill="#b0b0b0"/><rect x="1843.0" y="584.0" width="4.0" height="48.0" fill="#a4a4a4"/><rect x="1850.0" y="584.0" width="1.0" height="48.0" fill="#b0b0b0"/><rect x="1853.0" y="584.0" width="1.0" height="48.0" fill="#a7a7a7"/><rect x="1856.0" y="584.0" width="1.0" height="48.0" fill="#9f9f9f"/><rect x="1860.0" y="584.0" width="1.5" height="48.0" fill="#a3a3a3"/><rect x="1866.5" y="584.0" width="3.0" height="48.0" fill="#9f9f9f"/><rect x="1874.5" y="584.0" width="1.0" height="48.0" fill="#9f9f9f"/><rect x="1880.5" y="584.0" width="3.0" height="48.0" fill="#9f9f9f"/><rect x="1885.0" y="584.0" width="1.5" height="48.0" fill="#a1a1a1"/><rect x="1889.5" y="584.0" width="1.5" height="48.0" fill="#a7a7a7"/><rect x="1899.0" y="584.0" width="4.0" height="48.0" fill="#9f9f9f"/><rect x="1909.0" y="584.0" width="2.0" height="48.0" fill="#a7a7a7"/><rect x="1914.0" y="584.0" width="1.0" height="48.0" fill="#9f9f9f"/><rect x="1918.0" y="584.0" width="2.0" height="48.0" fill="#9f9f9f"/><rect x="1925.0" y="584.0" width="5.0" height="48.0" fill="#9f9f9f"/><rect x="1936.5" y="584.0" width="1.0" height="48.0" fill="#b0b0b0"/><rect x="1943.0" y="584.0" width="2.0" height="48.0" fill="#a7a7a7"/><rect x="1946.0" y="584.0" width="6.0" height="48.0" fill="#96709f"/><rect x="1952.0" y="584.0" width="5.0" height="48.0" fill="#bdbdbd"/><rect x="1952.0" y="584.0" width="4.0" height="48.0" fill="#a1a1a1"/><rect x="1969.0" y="584.0" width="5.0" height="48.0" fill="#b5b5b5"/><rect x="1981.5" y="584.0" width="30.7" height="48.0" fill="#bdbdbd"/><rect x="1982.5" y="584.0" width="6.0" height="48.0" fill="#a3a3a3"/><rect x="1993.5" y="584.0" width="2.0" height="48.0" fill="#a7a7a7"/><rect x="1997.5" y="584.0" width="1.5" height="48.0" fill="#9f9f9f"/><rect x="2005.5" y="584.0" width="1.0" height="48.0" fill="#b0b0b0"/><rect x="2012.0" y="584.0" width="0.2" height="48.0" fill="#a7a7a7"/><rect x="2015.8" y="584.0" width="15.0" height="48.0" fill="#bdbdbd"/><rect x="2016.8" y="584.0" width="2.0" height="48.0" fill="#a4a4a4"/><rect x="2021.8" y="584.0" width="4.0" height="48.0" fill="#a7a7a7"/><rect x="2019.0" y="584.0" width="4.0" height="48.0" fill="#96709f"/><rect x="2034.0" y="584.0" width="2.7" height="48.0" fill="#b5b5b5"/><rect x="2039.6" y="584.0" width="2.4" height="48.0" fill="#b5b5b5"/><text x="716.4" y="606.0" font-size="24" font-weight="400" fill="#e4e4e4" text-anchor="middle" style="font-family:'Roboto Condensed','Liberation Sans',sans-serif" textLength="53.47" lengthAdjust="spacingAndGlyphs" stroke="#e4e4e4" stroke-width="0.45">hybr…</text><text x="716.4" y="626.0" font-size="20" font-weight="400" fill="#e4e4e4" text-anchor="middle" style="font-family:'Roboto Condensed','Liberation Sans',sans-serif" textLength="44.56" lengthAdjust="spacingAndGlyphs" stroke="#e4e4e4" stroke-width="0.45">hybr…</text><text x="867.2" y="606.0" font-size="24" font-weight="400" fill="#e4e4e4" text-anchor="middle" style="font-family:'Roboto Condensed','Liberation Sans',sans-serif" textLength="53.39" lengthAdjust="spacingAndGlyphs" stroke="#e4e4e4" stroke-width="0.45">kshr…</text><text x="867.2" y="626.0" font-size="20" font-weight="400" fill="#e4e4e4" text-anchor="middle" style="font-family:'Roboto Condensed','Liberation Sans',sans-serif" textLength="44.50" lengthAdjust="spacingAndGlyphs" stroke="#e4e4e4" stroke-width="0.45">kshr…</text><text x="1314.0" y="606.0" font-size="24" font-weight="400" fill="#e4e4e4" text-anchor="middle" style="font-family:'Roboto Condensed','Liberation Sans',sans-serif" textLength="114.55" lengthAdjust="spacingAndGlyphs" stroke="#e4e4e4" stroke-width="0.45">wpa_suppl…</text><text x="1314.0" y="626.0" font-size="20" font-weight="400" fill="#e4e4e4" text-anchor="middle" style="font-family:'Roboto Condensed','Liberation Sans',sans-serif" textLength="95.45" lengthAdjust="spacingAndGlyphs" stroke="#e4e4e4" stroke-width="0.45">wpa_suppl…</text><text x="1440.5" y="606.0" font-size="24" font-weight="400" fill="#e4e4e4" text-anchor="middle" style="font-family:'Roboto Condensed','Liberation Sans',sans-serif" textLength="33.86" lengthAdjust="spacingAndGlyphs" stroke="#e4e4e4" stroke-width="0.45">sy…</text><text x="1440.5" y="626.0" font-size="20" font-weight="400" fill="#e4e4e4" text-anchor="middle" style="font-family:'Roboto Condensed','Liberation Sans',sans-serif" textLength="35.62" lengthAdjust="spacingAndGlyphs" stroke="#e4e4e4" stroke-width="0.45">Ow…</text><text x="1493.4" y="606.0" font-size="24" font-weight="400" fill="#e4e4e4" text-anchor="middle" style="font-family:'Roboto Condensed','Liberation Sans',sans-serif" textLength="33.86" lengthAdjust="spacingAndGlyphs" stroke="#e4e4e4" stroke-width="0.45">sy…</text><text x="1493.4" y="626.0" font-size="20" font-weight="400" fill="#e4e4e4" text-anchor="middle" style="font-family:'Roboto Condensed','Liberation Sans',sans-serif" textLength="35.62" lengthAdjust="spacingAndGlyphs" stroke="#e4e4e4" stroke-width="0.45">Ow…</text><text x="1534.5" y="606.0" font-size="24" font-weight="400" fill="#e4e4e4" text-anchor="middle" style="font-family:'Roboto Condensed','Liberation Sans',sans-serif" textLength="11.62" lengthAdjust="spacingAndGlyphs" stroke="#e4e4e4" stroke-width="0.45">n</text><text x="1534.5" y="626.0" font-size="20" font-weight="400" fill="#e4e4e4" text-anchor="middle" style="font-family:'Roboto Condensed','Liberation Sans',sans-serif" textLength="9.88" lengthAdjust="spacingAndGlyphs" stroke="#e4e4e4" stroke-width="0.45">b</text><rect x="533.0" y="644.0" width="5.1" height="48.0" fill="#bebebe"/><rect x="546.9" y="644.0" width="4.9" height="48.0" fill="#b5b5b5"/><rect x="581.2" y="644.0" width="6.5" height="48.0" fill="#bdbdbd"/><rect x="581.2" y="644.0" width="6.0" height="48.0" fill="#a1a1a1"/><rect x="601.0" y="644.0" width="9.4" height="48.0" fill="#bebebe"/><rect x="601.0" y="644.0" width="1.0" height="48.0" fill="#a2a2a2"/><rect x="609.4" y="644.0" width="1.0" height="48.0" fill="#a2a2a2"/><rect x="621.0" y="644.0" width="4.9" height="48.0" fill="#b5b5b5"/><rect x="642.9" y="644.0" width="7.6" height="48.0" fill="#bebebe"/><rect x="642.9" y="644.0" width="1.0" height="48.0" fill="#a2a2a2"/><rect x="649.5" y="644.0" width="1.0" height="48.0" fill="#a2a2a2"/><rect x="655.2" y="644.0" width="2.8" height="48.0" fill="#b5b5b5"/><rect x="670.9" y="644.0" width="13.7" height="48.0" fill="#bdbdbd"/><rect x="671.9" y="644.0" width="3.0" height="48.0" fill="#a3a3a3"/><rect x="678.9" y="644.0" width="3.0" height="48.0" fill="#9f9f9f"/><rect x="690.9" y="644.0" width="1.9" height="48.0" fill="#b5b5b5"/><rect x="698.7" y="644.0" width="27.4" height="48.0" fill="#bebebe"/><rect x="698.7" y="644.0" width="1.0" height="48.0" fill="#a2a2a2"/><rect x="725.1" y="644.0" width="1.0" height="48.0" fill="#a2a2a2"/><rect x="729.5" y="644.0" width="65.2" height="48.0" fill="#bdbdbd"/><rect x="729.5" y="644.0" width="5.0" height="48.0" fill="#a4a4a4"/><rect x="737.5" y="644.0" width="2.0" height="48.0" fill="#a4a4a4"/><rect x="742.5" y="644.0" width="3.0" height="48.0" fill="#a3a3a3"/><rect x="748.5" y="644.0" width="3.0" height="48.0" fill="#a1a1a1"/><rect x="754.5" y="644.0" width="1.0" height="48.0" fill="#b0b0b0"/><rect x="757.5" y="644.0" width="2.0" height="48.0" fill="#a3a3a3"/><rect x="764.5" y="644.0" width="1.0" height="48.0" fill="#b0b0b0"/><rect x="769.5" y="644.0" width="1.5" height="48.0" fill="#a7a7a7"/><rect x="772.5" y="644.0" width="1.5" height="48.0" fill="#a1a1a1"/><rect x="782.0" y="644.0" width="2.0" height="48.0" fill="#a7a7a7"/><rect x="789.0" y="644.0" width="1.0" height="48.0" fill="#9f9f9f"/><rect x="793.0" y="644.0" width="1.5" height="48.0" fill="#a1a1a1"/><rect x="813.0" y="644.0" width="12.0" height="48.0" fill="#bdbdbd"/><rect x="815.0" y="644.0" width="2.0" height="48.0" fill="#a1a1a1"/><rect x="822.0" y="644.0" width="3.0" height="48.0" fill="#a4a4a4"/><rect x="825.0" y="644.0" width="43.7" height="48.0" fill="#bebebe"/><rect x="825.0" y="644.0" width="1.0" height="48.0" fill="#a2a2a2"/><rect x="867.7" y="644.0" width="1.0" height="48.0" fill="#a2a2a2"/><rect x="888.7" y="644.0" width="2.2" height="48.0" fill="#b5b5b5"/><rect x="894.8" y="644.0" width="2.0" height="48.0" fill="#b5b5b5"/><rect x="899.1" y="644.0" width="8.4" height="48.0" fill="#bdbdbd"/><rect x="901.1" y="644.0" width="1.0" height="48.0" fill="#a1a1a1"/><rect x="910.0" y="644.0" width="4.8" height="48.0" fill="#b5b5b5"/><rect x="919.9" y="644.0" width="81.7" height="48.0" fill="#bebebe"/><rect x="919.9" y="644.0" width="1.0" height="48.0" fill="#a2a2a2"/><rect x="1000.6" y="644.0" width="1.0" height="48.0" fill="#a2a2a2"/><rect x="1011.0" y="644.0" width="5.8" height="48.0" fill="#bebebe"/><rect x="1026.0" y="644.0" width="12.8" height="48.0" fill="#bdbdbd"/><rect x="1027.0" y="644.0" width="2.0" height="48.0" fill="#a1a1a1"/><rect x="1034.0" y="644.0" width="3.0" height="48.0" fill="#a4a4a4"/><rect x="1038.5" y="644.0" width="0.3" height="48.0" fill="#9f9f9f"/><rect x="1049.5" y="644.0" width="4.9" height="48.0" fill="#b5b5b5"/><rect x="1057.0" y="644.0" width="30.7" height="48.0" fill="#bdbdbd"/><rect x="1059.0" y="644.0" width="2.0" height="48.0" fill="#a1a1a1"/><rect x="1066.0" y="644.0" width="4.0" height="48.0" fill="#9f9f9f"/><rect x="1073.0" y="644.0" width="3.0" height="48.0" fill="#a1a1a1"/><rect x="1079.0" y="644.0" width="1.0" height="48.0" fill="#a7a7a7"/><rect x="1085.0" y="644.0" width="1.0" height="48.0" fill="#b0b0b0"/><rect x="1103.4" y="644.0" width="3.6" height="48.0" fill="#b5b5b5"/><rect x="1134.4" y="644.0" width="3.7" height="48.0" fill="#b5b5b5"/><rect x="1160.8" y="644.0" width="12.2" height="48.0" fill="#bebebe"/><rect x="1160.8" y="644.0" width="1.0" height="48.0" fill="#a2a2a2"/><rect x="1172.0" y="644.0" width="1.0" height="48.0" fill="#a2a2a2"/><rect x="1187.2" y="644.0" width="20.0" height="48.0" fill="#bdbdbd"/><rect x="1188.2" y="644.0" width="1.5" height="48.0" fill="#a7a7a7"/><rect x="1194.7" y="644.0" width="1.0" height="48.0" fill="#b0b0b0"/><rect x="1199.7" y="644.0" width="6.0" height="48.0" fill="#a1a1a1"/><rect x="1214.0" y="644.0" width="12.8" height="48.0" fill="#bdbdbd"/><rect x="1215.0" y="644.0" width="3.0" height="48.0" fill="#a7a7a7"/><rect x="1222.0" y="644.0" width="3.0" height="48.0" fill="#a7a7a7"/><rect x="1226.5" y="644.0" width="0.3" height="48.0" fill="#a3a3a3"/><rect x="1250.3" y="644.0" width="37.0" height="48.0" fill="#bdbdbd"/><rect x="1251.3" y="644.0" width="4.0" height="48.0" fill="#a1a1a1"/><rect x="1260.3" y="644.0" width="2.0" height="48.0" fill="#a7a7a7"/><rect x="1265.3" y="644.0" width="1.0" height="48.0" fill="#b0b0b0"/><rect x="1268.3" y="644.0" width="1.0" height="48.0" fill="#a7a7a7"/><rect x="1272.3" y="644.0" width="4.0" height="48.0" fill="#a1a1a1"/><rect x="1278.3" y="644.0" width="4.0" height="48.0" fill="#a3a3a3"/><rect x="1297.0" y="644.0" width="36.8" height="48.0" fill="#bdbdbd"/><rect x="1298.0" y="644.0" width="2.0" height="48.0" fill="#a4a4a4"/><rect x="1301.5" y="644.0" width="1.0" height="48.0" fill="#a3a3a3"/><rect x="1305.5" y="644.0" width="4.0" height="48.0" fill="#a1a1a1"/><rect x="1322.5" y="644.0" width="3.0" height="48.0" fill="#a3a3a3"/><rect x="1328.5" y="644.0" width="2.0" height="48.0" fill="#9f9f9f"/><rect x="1337.3" y="644.0" width="1.6" height="48.0" fill="#b5b5b5"/><rect x="1344.5" y="644.0" width="3.4" height="48.0" fill="#b5b5b5"/><rect x="1352.0" y="644.0" width="3.9" height="48.0" fill="#b5b5b5"/><rect x="1358.8" y="644.0" width="20.0" height="48.0" fill="#bdbdbd"/><rect x="1358.8" y="644.0" width="6.0" height="48.0" fill="#a4a4a4"/><rect x="1366.8" y="644.0" width="1.5" height="48.0" fill="#a7a7a7"/><rect x="1376.3" y="644.0" width="2.0" height="48.0" fill="#9f9f9f"/><rect x="1396.0" y="644.0" width="124.0" height="48.0" fill="#bebebe"/><rect x="1396.0" y="644.0" width="1.0" height="48.0" fill="#a2a2a2"/><rect x="1519.0" y="644.0" width="1.0" height="48.0" fill="#a2a2a2"/><rect x="1520.0" y="644.0" width="25.0" height="48.0" fill="#bdbdbd"/><rect x="1520.0" y="644.0" width="5.0" height="48.0" fill="#9f9f9f"/><rect x="1526.5" y="644.0" width="4.0" height="48.0" fill="#a1a1a1"/><rect x="1543.5" y="644.0" width="1.5" height="48.0" fill="#a4a4a4"/><rect x="1552.0" y="644.0" width="-7.0" height="48.0" fill="#b0b0b0"/><rect x="1545.0" y="644.0" width="35.0" height="48.0" fill="#bebebe"/><rect x="1545.0" y="644.0" width="1.0" height="48.0" fill="#a2a2a2"/><rect x="1579.0" y="644.0" width="1.0" height="48.0" fill="#a2a2a2"/><rect x="1580.0" y="644.0" width="80.0" height="48.0" fill="#bebebe"/><rect x="1580.0" y="644.0" width="1.0" height="48.0" fill="#a2a2a2"/><rect x="1659.0" y="644.0" width="1.0" height="48.0" fill="#a2a2a2"/><rect x="1660.0" y="644.0" width="23.0" height="48.0" fill="#bdbdbd"/><rect x="1660.0" y="644.0" width="5.0" height="48.0" fill="#a4a4a4"/><rect x="1671.5" y="644.0" width="1.0" height="48.0" fill="#b0b0b0"/><rect x="1678.0" y="644.0" width="4.0" height="48.0" fill="#a3a3a3"/><rect x="1683.0" y="644.0" width="3.0" height="48.0" fill="#a4a4a4"/><rect x="1686.0" y="644.0" width="34.0" height="48.0" fill="#bebebe"/><rect x="1686.0" y="644.0" width="1.0" height="48.0" fill="#a2a2a2"/><rect x="1719.0" y="644.0" width="1.0" height="48.0" fill="#a2a2a2"/><rect x="1720.0" y="644.0" width="3.0" height="48.0" fill="#a2a2a2"/><rect x="1723.0" y="644.0" width="38.0" height="48.0" fill="#bebebe"/><rect x="1723.0" y="644.0" width="1.0" height="48.0" fill="#a2a2a2"/><rect x="1760.0" y="644.0" width="1.0" height="48.0" fill="#a2a2a2"/><rect x="1761.0" y="644.0" width="1.5" height="48.0" fill="#a4a4a4"/><rect x="1762.5" y="644.0" width="2.5" height="48.0" fill="#b5b5b5"/><rect x="1765.0" y="644.0" width="2.0" height="48.0" fill="#a4a4a4"/><rect x="1767.0" y="644.0" width="12.0" height="48.0" fill="#bebebe"/><rect x="1767.0" y="644.0" width="1.0" height="48.0" fill="#a2a2a2"/><rect x="1778.0" y="644.0" width="1.0" height="48.0" fill="#a2a2a2"/><rect x="1779.0" y="644.0" width="14.0" height="48.0" fill="#bdbdbd"/><rect x="1780.0" y="644.0" width="3.0" height="48.0" fill="#a1a1a1"/><rect x="1786.0" y="644.0" width="2.0" height="48.0" fill="#a4a4a4"/><rect x="1789.5" y="644.0" width="3.5" height="48.0" fill="#a1a1a1"/><rect x="1793.0" y="644.0" width="52.0" height="48.0" fill="#bebebe"/><rect x="1793.0" y="644.0" width="1.0" height="48.0" fill="#a2a2a2"/><rect x="1844.0" y="644.0" width="1.0" height="48.0" fill="#a2a2a2"/><rect x="1845.0" y="644.0" width="6.6" height="48.0" fill="#a5a5a5"/><rect x="1851.6" y="644.0" width="28.4" height="48.0" fill="#bebebe"/><rect x="1851.6" y="644.0" width="1.0" height="48.0" fill="#a2a2a2"/><rect x="1879.0" y="644.0" width="1.0" height="48.0" fill="#a2a2a2"/><rect x="1880.0" y="644.0" width="38.0" height="48.0" fill="#bebebe"/><rect x="1880.0" y="644.0" width="1.0" height="48.0" fill="#a2a2a2"/><rect x="1917.0" y="644.0" width="1.0" height="48.0" fill="#a2a2a2"/><rect x="1918.0" y="644.0" width="3.0" height="48.0" fill="#a2a2a2"/><rect x="1921.0" y="644.0" width="74.0" height="48.0" fill="#bebebe"/><rect x="1921.0" y="644.0" width="1.0" height="48.0" fill="#a2a2a2"/><rect x="1994.0" y="644.0" width="1.0" height="48.0" fill="#a2a2a2"/><rect x="1995.0" y="644.0" width="8.4" height="48.0" fill="#bdbdbd"/><rect x="1995.0" y="644.0" width="4.0" height="48.0" fill="#a3a3a3"/><rect x="2009.3" y="644.0" width="4.9" height="48.0" fill="#b5b5b5"/><rect x="2016.0" y="644.0" width="7.0" height="48.0" fill="#96709f"/><rect x="2023.0" y="644.0" width="19.0" height="48.0" fill="#bebebe"/><rect x="2023.0" y="644.0" width="1.0" height="48.0" fill="#a2a2a2"/><rect x="2041.0" y="644.0" width="1.0" height="48.0" fill="#a2a2a2"/><text x="714.0" y="666.0" font-size="24" font-weight="400" fill="#e4e4e4" text-anchor="middle" style="font-family:'Roboto Condensed','Liberation Sans',sans-serif" textLength="11.09" lengthAdjust="spacingAndGlyphs" stroke="#e4e4e4" stroke-width="0.45">c</text><text x="714.0" y="686.0" font-size="20" font-weight="400" fill="#e4e4e4" text-anchor="middle" style="font-family:'Roboto Condensed','Liberation Sans',sans-serif" textLength="9.67" lengthAdjust="spacingAndGlyphs" stroke="#e4e4e4" stroke-width="0.45">J</text><text x="844.7" y="666.0" font-size="24" font-weight="400" fill="#e4e4e4" text-anchor="middle" style="font-family:'Roboto Condensed','Liberation Sans',sans-serif" textLength="25.77" lengthAdjust="spacingAndGlyphs" stroke="#e4e4e4" stroke-width="0.45">h…</text><text x="844.7" y="686.0" font-size="20" font-weight="400" fill="#e4e4e4" text-anchor="middle" style="font-family:'Roboto Condensed','Liberation Sans',sans-serif" textLength="21.47" lengthAdjust="spacingAndGlyphs" stroke="#e4e4e4" stroke-width="0.45">h…</text><text x="960.4" y="666.0" font-size="24" font-weight="400" fill="#e4e4e4" text-anchor="middle" style="font-family:'Roboto Condensed','Liberation Sans',sans-serif" textLength="60.34" lengthAdjust="spacingAndGlyphs" stroke="#e4e4e4" stroke-width="0.45">kshri…</text><text x="960.4" y="686.0" font-size="20" font-weight="400" fill="#e4e4e4" text-anchor="middle" style="font-family:'Roboto Condensed','Liberation Sans',sans-serif" textLength="50.30" lengthAdjust="spacingAndGlyphs" stroke="#e4e4e4" stroke-width="0.45">kshri…</text><text x="1458.0" y="666.0" font-size="24" font-weight="400" fill="#e4e4e4" text-anchor="middle" style="font-family:'Roboto Condensed','Liberation Sans',sans-serif" textLength="103.14" lengthAdjust="spacingAndGlyphs" stroke="#e4e4e4" stroke-width="0.45">system_s…</text><text x="1458.0" y="686.0" font-size="20" font-weight="400" fill="#e4e4e4" text-anchor="middle" style="font-family:'Roboto Condensed','Liberation Sans',sans-serif" textLength="81.69" lengthAdjust="spacingAndGlyphs" stroke="#e4e4e4" stroke-width="0.45">Connecti…</text><text x="1562.0" y="666.0" font-size="24" font-weight="400" fill="#e4e4e4" text-anchor="middle" style="font-family:'Roboto Condensed','Liberation Sans',sans-serif" textLength="25.12" lengthAdjust="spacingAndGlyphs" stroke="#e4e4e4" stroke-width="0.45">s…</text><text x="1562.0" y="686.0" font-size="20" font-weight="400" fill="#e4e4e4" text-anchor="middle" style="font-family:'Roboto Condensed','Liberation Sans',sans-serif" textLength="23.16" lengthAdjust="spacingAndGlyphs" stroke="#e4e4e4" stroke-width="0.45">C…</text><text x="1618.8" y="666.0" font-size="24" font-weight="400" fill="#e4e4e4" text-anchor="middle" style="font-family:'Roboto Condensed','Liberation Sans',sans-serif" textLength="53.16" lengthAdjust="spacingAndGlyphs" stroke="#e4e4e4" stroke-width="0.45">syst…</text><text x="1618.8" y="686.0" font-size="20" font-weight="400" fill="#e4e4e4" text-anchor="middle" style="font-family:'Roboto Condensed','Liberation Sans',sans-serif" textLength="52.56" lengthAdjust="spacingAndGlyphs" stroke="#e4e4e4" stroke-width="0.45">Conn…</text><text x="1703.0" y="666.0" font-size="24" font-weight="400" fill="#e4e4e4" text-anchor="middle" style="font-family:'Roboto Condensed','Liberation Sans',sans-serif" textLength="25.27" lengthAdjust="spacingAndGlyphs" stroke="#e4e4e4" stroke-width="0.45">c…</text><text x="1703.0" y="686.0" font-size="20" font-weight="400" fill="#e4e4e4" text-anchor="middle" style="font-family:'Roboto Condensed','Liberation Sans',sans-serif" textLength="21.67" lengthAdjust="spacingAndGlyphs" stroke="#e4e4e4" stroke-width="0.45">b…</text><text x="1742.0" y="666.0" font-size="24" font-weight="400" fill="#e4e4e4" text-anchor="middle" style="font-family:'Roboto Condensed','Liberation Sans',sans-serif" textLength="24.98" lengthAdjust="spacingAndGlyphs" stroke="#e4e4e4" stroke-width="0.45">k…</text><text x="1742.0" y="686.0" font-size="20" font-weight="400" fill="#e4e4e4" text-anchor="middle" style="font-family:'Roboto Condensed','Liberation Sans',sans-serif" textLength="20.83" lengthAdjust="spacingAndGlyphs" stroke="#e4e4e4" stroke-width="0.45">k…</text><text x="1819.3" y="666.0" font-size="24" font-weight="400" fill="#e4e4e4" text-anchor="middle" style="font-family:'Roboto Condensed','Liberation Sans',sans-serif" textLength="36.70" lengthAdjust="spacingAndGlyphs" stroke="#e4e4e4" stroke-width="0.45">sh…</text><text x="1819.3" y="686.0" font-size="20" font-weight="400" fill="#e4e4e4" text-anchor="middle" style="font-family:'Roboto Condensed','Liberation Sans',sans-serif" textLength="30.59" lengthAdjust="spacingAndGlyphs" stroke="#e4e4e4" stroke-width="0.45">sh…</text><text x="1865.3" y="666.0" font-size="24" font-weight="400" fill="#e4e4e4" text-anchor="middle" style="font-family:'Roboto Condensed','Liberation Sans',sans-serif" textLength="10.95" lengthAdjust="spacingAndGlyphs" stroke="#e4e4e4" stroke-width="0.45">s</text><text x="1865.3" y="686.0" font-size="20" font-weight="400" fill="#e4e4e4" text-anchor="middle" style="font-family:'Roboto Condensed','Liberation Sans',sans-serif" textLength="9.12" lengthAdjust="spacingAndGlyphs" stroke="#e4e4e4" stroke-width="0.45">s</text><text x="1899.6" y="666.0" font-size="24" font-weight="400" fill="#e4e4e4" text-anchor="middle" style="font-family:'Roboto Condensed','Liberation Sans',sans-serif" textLength="24.98" lengthAdjust="spacingAndGlyphs" stroke="#e4e4e4" stroke-width="0.45">k…</text><text x="1899.6" y="686.0" font-size="20" font-weight="400" fill="#e4e4e4" text-anchor="middle" style="font-family:'Roboto Condensed','Liberation Sans',sans-serif" textLength="20.83" lengthAdjust="spacingAndGlyphs" stroke="#e4e4e4" stroke-width="0.45">k…</text><text x="1958.4" y="666.0" font-size="24" font-weight="400" fill="#e4e4e4" text-anchor="middle" style="font-family:'Roboto Condensed','Liberation Sans',sans-serif" textLength="53.39" lengthAdjust="spacingAndGlyphs" stroke="#e4e4e4" stroke-width="0.45">kshr…</text><text x="1958.4" y="686.0" font-size="20" font-weight="400" fill="#e4e4e4" text-anchor="middle" style="font-family:'Roboto Condensed','Liberation Sans',sans-serif" textLength="44.50" lengthAdjust="spacingAndGlyphs" stroke="#e4e4e4" stroke-width="0.45">kshr…</text><rect x="508.0" y="704.0" width="2.0" height="48.0" fill="#a8a8a8"/><rect x="513.0" y="704.0" width="2.0" height="48.0" fill="#a8a8a8"/><rect x="516.5" y="704.0" width="3.0" height="48.0" fill="#bdbdbd"/><rect x="521.5" y="704.0" width="3.0" height="48.0" fill="#a8a8a8"/><rect x="527.5" y="704.0" width="2.0" height="48.0" fill="#b4b4b4"/><rect x="530.5" y="704.0" width="4.0" height="48.0" fill="#bdbdbd"/><rect x="537.5" y="704.0" width="2.0" height="48.0" fill="#bdbdbd"/><rect x="587.5" y="704.0" width="1.5" height="48.0" fill="#b5b5b5"/><rect x="673.6" y="704.0" width="2.0" height="48.0" fill="#bdbdbd"/><rect x="678.6" y="704.0" width="1.5" height="48.0" fill="#b4b4b4"/><rect x="681.6" y="704.0" width="2.0" height="48.0" fill="#bdbdbd"/><rect x="685.6" y="704.0" width="1.5" height="48.0" fill="#bdbdbd"/><rect x="688.1" y="704.0" width="1.5" height="48.0" fill="#a8a8a8"/><rect x="691.1" y="704.0" width="1.5" height="48.0" fill="#a8a8a8"/><rect x="694.6" y="704.0" width="4.0" height="48.0" fill="#b4b4b4"/><rect x="699.6" y="704.0" width="4.0" height="48.0" fill="#bdbdbd"/><rect x="705.1" y="704.0" width="1.5" height="48.0" fill="#b4b4b4"/><rect x="707.6" y="704.0" width="2.0" height="48.0" fill="#b4b4b4"/><rect x="712.6" y="704.0" width="2.0" height="48.0" fill="#b4b4b4"/><rect x="716.1" y="704.0" width="1.5" height="48.0" fill="#bdbdbd"/><rect x="719.6" y="704.0" width="2.0" height="48.0" fill="#bdbdbd"/><rect x="723.6" y="704.0" width="3.0" height="48.0" fill="#b4b4b4"/><rect x="728.6" y="704.0" width="4.0" height="48.0" fill="#bdbdbd"/><rect x="734.1" y="704.0" width="3.4" height="48.0" fill="#bdbdbd"/><rect x="746.3" y="704.0" width="10.7" height="48.0" fill="#bdbdbd"/><rect x="747.3" y="704.0" width="3.0" height="48.0" fill="#a1a1a1"/><rect x="753.3" y="704.0" width="2.0" height="48.0" fill="#a7a7a7"/><rect x="762.4" y="704.0" width="1.4" height="48.0" fill="#b5b5b5"/><rect x="768.3" y="704.0" width="2.9" height="48.0" fill="#b5b5b5"/><rect x="775.7" y="704.0" width="2.0" height="48.0" fill="#b5b5b5"/><rect x="783.5" y="704.0" width="2.0" height="48.0" fill="#b5b5b5"/><rect x="792.7" y="704.0" width="3.6" height="48.0" fill="#b5b5b5"/><rect x="798.6" y="704.0" width="2.0" height="48.0" fill="#b5b5b5"/><rect x="805.0" y="704.0" width="2.0" height="48.0" fill="#a8a8a8"/><rect x="809.0" y="704.0" width="3.0" height="48.0" fill="#b4b4b4"/><rect x="814.0" y="704.0" width="1.5" height="48.0" fill="#a8a8a8"/><rect x="816.5" y="704.0" width="2.0" height="48.0" fill="#bdbdbd"/><rect x="819.5" y="704.0" width="2.0" height="48.0" fill="#a8a8a8"/><rect x="824.5" y="704.0" width="2.0" height="48.0" fill="#bdbdbd"/><rect x="829.5" y="704.0" width="0.5" height="48.0" fill="#a8a8a8"/><rect x="834.5" y="704.0" width="2.0" height="48.0" fill="#bdbdbd"/><rect x="837.5" y="704.0" width="3.0" height="48.0" fill="#b4b4b4"/><rect x="842.0" y="704.0" width="4.0" height="48.0" fill="#a8a8a8"/><rect x="847.0" y="704.0" width="2.0" height="48.0" fill="#a8a8a8"/><rect x="851.0" y="704.0" width="2.0" height="48.0" fill="#a8a8a8"/><rect x="855.0" y="704.0" width="1.4" height="48.0" fill="#a8a8a8"/><rect x="866.8" y="704.0" width="4.7" height="48.0" fill="#b5b5b5"/><rect x="883.8" y="704.0" width="2.0" height="48.0" fill="#b5b5b5"/><rect x="888.7" y="704.0" width="2.0" height="48.0" fill="#b5b5b5"/><rect x="896.2" y="704.0" width="2.0" height="48.0" fill="#b4b4b4"/><rect x="900.2" y="704.0" width="4.0" height="48.0" fill="#a8a8a8"/><rect x="907.2" y="704.0" width="3.0" height="48.0" fill="#a8a8a8"/><rect x="919.7" y="704.0" width="1.5" height="48.0" fill="#b4b4b4"/><rect x="924.2" y="704.0" width="2.0" height="48.0" fill="#a8a8a8"/><rect x="927.2" y="704.0" width="1.5" height="48.0" fill="#b4b4b4"/><rect x="929.7" y="704.0" width="2.3" height="48.0" fill="#bdbdbd"/><rect x="935.0" y="704.0" width="1.5" height="48.0" fill="#a8a8a8"/><rect x="938.5" y="704.0" width="4.0" height="48.0" fill="#b4b4b4"/><rect x="947.7" y="704.0" width="1.6" height="48.0" fill="#b5b5b5"/><rect x="952.2" y="704.0" width="1.8" height="48.0" fill="#b5b5b5"/><rect x="1477.7" y="704.0" width="4.3" height="48.0" fill="#b5b5b5"/><rect x="1572.2" y="704.0" width="2.5" height="48.0" fill="#b5b5b5"/><rect x="1620.2" y="704.0" width="10.3" height="48.0" fill="#bdbdbd"/><rect x="1622.2" y="704.0" width="3.0" height="48.0" fill="#a3a3a3"/><rect x="1628.2" y="704.0" width="2.0" height="48.0" fill="#9f9f9f"/><rect x="1647.8" y="704.0" width="8.9" height="48.0" fill="#bdbdbd"/><rect x="1647.8" y="704.0" width="2.0" height="48.0" fill="#a1a1a1"/><rect x="1652.8" y="704.0" width="2.0" height="48.0" fill="#a7a7a7"/><rect x="1658.7" y="704.0" width="1.9" height="48.0" fill="#b5b5b5"/><rect x="1665.0" y="704.0" width="115.0" height="48.0" fill="#bdbdbd"/><rect x="1665.0" y="704.0" width="2.0" height="48.0" fill="#9f9f9f"/><rect x="1673.0" y="704.0" width="1.0" height="48.0" fill="#a1a1a1"/><rect x="1684.0" y="704.0" width="5.0" height="48.0" fill="#a3a3a3"/><rect x="1699.0" y="704.0" width="2.0" height="48.0" fill="#a4a4a4"/><rect x="1702.5" y="704.0" width="1.0" height="48.0" fill="#a1a1a1"/><rect x="1708.5" y="704.0" width="1.0" height="48.0" fill="#b0b0b0"/><rect x="1713.5" y="704.0" width="2.0" height="48.0" fill="#a4a4a4"/><rect x="1718.5" y="704.0" width="1.0" height="48.0" fill="#a1a1a1"/><rect x="1721.0" y="704.0" width="6.0" height="48.0" fill="#a4a4a4"/><rect x="1730.0" y="704.0" width="4.0" height="48.0" fill="#a4a4a4"/><rect x="1744.0" y="704.0" width="6.0" height="48.0" fill="#a7a7a7"/><rect x="1756.5" y="704.0" width="1.0" height="48.0" fill="#b0b0b0"/><rect x="1763.0" y="704.0" width="3.0" height="48.0" fill="#a1a1a1"/><rect x="1770.0" y="704.0" width="1.0" height="48.0" fill="#a7a7a7"/><rect x="1776.0" y="704.0" width="1.0" height="48.0" fill="#b0b0b0"/><rect x="1782.5" y="704.0" width="136.5" height="48.0" fill="#bdbdbd"/><rect x="1783.5" y="704.0" width="5.0" height="48.0" fill="#a1a1a1"/><rect x="1792.5" y="704.0" width="1.0" height="48.0" fill="#b0b0b0"/><rect x="1796.5" y="704.0" width="1.5" height="48.0" fill="#9f9f9f"/><rect x="1801.0" y="704.0" width="1.0" height="48.0" fill="#a1a1a1"/><rect x="1807.0" y="704.0" width="3.0" height="48.0" fill="#a1a1a1"/><rect x="1814.0" y="704.0" width="6.0" height="48.0" fill="#a7a7a7"/><rect x="1830.0" y="704.0" width="3.0" height="48.0" fill="#a4a4a4"/><rect x="1835.0" y="704.0" width="6.0" height="48.0" fill="#a1a1a1"/><rect x="1844.0" y="704.0" width="3.0" height="48.0" fill="#a4a4a4"/><rect x="1850.0" y="704.0" width="2.0" height="48.0" fill="#9f9f9f"/><rect x="1855.0" y="704.0" width="4.0" height="48.0" fill="#9f9f9f"/><rect x="1865.5" y="704.0" width="1.0" height="48.0" fill="#b0b0b0"/><rect x="1872.0" y="704.0" width="6.0" height="48.0" fill="#a7a7a7"/><rect x="1886.0" y="704.0" width="1.0" height="48.0" fill="#a1a1a1"/><rect x="1893.0" y="704.0" width="2.0" height="48.0" fill="#a3a3a3"/><rect x="1899.0" y="704.0" width="2.0" height="48.0" fill="#a7a7a7"/><rect x="1914.0" y="704.0" width="2.0" height="48.0" fill="#a4a4a4"/><rect x="1917.5" y="704.0" width="1.0" height="48.0" fill="#a1a1a1"/><rect x="1919.0" y="704.0" width="12.0" height="48.0" fill="url(#hatch)"/><rect x="1931.0" y="704.0" width="8.7" height="48.0" fill="#bdbdbd"/><rect x="1933.0" y="704.0" width="2.0" height="48.0" fill="#9f9f9f"/><rect x="1938.0" y="704.0" width="1.0" height="48.0" fill="#a1a1a1"/><rect x="1825.5" y="704.0" width="1.0" height="48.0" fill="#96709f"/><rect x="1836.5" y="704.0" width="1.0" height="48.0" fill="#96709f"/><rect x="1842.8" y="704.0" width="4.9" height="48.0" fill="#96709f"/><rect x="1855.5" y="704.0" width="1.5" height="48.0" fill="#96709f"/><rect x="1867.0" y="704.0" width="5.8" height="48.0" fill="#96709f"/><rect x="1892.3" y="704.0" width="1.2" height="48.0" fill="#96709f"/><rect x="1943.0" y="704.0" width="4.6" height="48.0" fill="#96709f"/><rect x="1949.2" y="704.0" width="4.8" height="48.0" fill="#b5b5b5"/><rect x="1954.0" y="704.0" width="2.8" height="48.0" fill="#96709f"/><rect x="1989.3" y="704.0" width="52.7" height="48.0" fill="#bebebe"/><rect x="1989.3" y="704.0" width="1.0" height="48.0" fill="#a2a2a2"/><rect x="2041.0" y="704.0" width="1.0" height="48.0" fill="#a2a2a2"/><text x="2017.0" y="726.0" font-size="24" font-weight="400" fill="#e4e4e4" text-anchor="middle" style="font-family:'Roboto Condensed','Liberation Sans',sans-serif" textLength="24.98" lengthAdjust="spacingAndGlyphs" stroke="#e4e4e4" stroke-width="0.45">k…</text><text x="2017.0" y="746.0" font-size="20" font-weight="400" fill="#e4e4e4" text-anchor="middle" style="font-family:'Roboto Condensed','Liberation Sans',sans-serif" textLength="20.83" lengthAdjust="spacingAndGlyphs" stroke="#e4e4e4" stroke-width="0.45">k…</text><rect x="498.0" y="764.0" width="579.0" height="48.0" fill="#8a3a98"/><rect x="1083.8" y="764.0" width="1.4" height="48.0" fill="#8a3a98"/><rect x="1431.1" y="764.0" width="2.2" height="48.0" fill="#b5b5b5"/><rect x="1479.1" y="764.0" width="2.9" height="48.0" fill="#b5b5b5"/><rect x="1524.2" y="764.0" width="1.8" height="48.0" fill="#b5b5b5"/><rect x="1570.4" y="764.0" width="3.3" height="48.0" fill="#b5b5b5"/><rect x="1586.0" y="764.0" width="10.6" height="48.0" fill="#bdbdbd"/><rect x="1586.0" y="764.0" width="1.0" height="48.0" fill="#a1a1a1"/><rect x="1588.5" y="764.0" width="1.5" height="48.0" fill="#a3a3a3"/><rect x="1595.0" y="764.0" width="1.6" height="48.0" fill="#a3a3a3"/><rect x="1621.3" y="764.0" width="9.2" height="48.0" fill="#bdbdbd"/><rect x="1623.3" y="764.0" width="4.0" height="48.0" fill="#a1a1a1"/><rect x="1630.3" y="764.0" width="0.2" height="48.0" fill="#a4a4a4"/><rect x="1649.1" y="764.0" width="2.9" height="48.0" fill="#b5b5b5"/><rect x="1654.0" y="764.0" width="6.0" height="48.0" fill="#bebebe"/><rect x="1665.0" y="764.0" width="186.6" height="48.0" fill="#bdbdbd"/><rect x="1665.0" y="764.0" width="1.0" height="48.0" fill="#a1a1a1"/><rect x="1670.0" y="764.0" width="5.0" height="48.0" fill="#a1a1a1"/><rect x="1678.0" y="764.0" width="1.5" height="48.0" fill="#a4a4a4"/><rect x="1683.5" y="764.0" width="3.0" height="48.0" fill="#9f9f9f"/><rect x="1689.5" y="764.0" width="1.0" height="48.0" fill="#b0b0b0"/><rect x="1692.5" y="764.0" width="3.0" height="48.0" fill="#9f9f9f"/><rect x="1699.5" y="764.0" width="1.0" height="48.0" fill="#9f9f9f"/><rect x="1705.5" y="764.0" width="6.0" height="48.0" fill="#a7a7a7"/><rect x="1715.5" y="764.0" width="1.0" height="48.0" fill="#a7a7a7"/><rect x="1718.0" y="764.0" width="4.0" height="48.0" fill="#a3a3a3"/><rect x="1724.0" y="764.0" width="3.0" height="48.0" fill="#a7a7a7"/><rect x="1728.5" y="764.0" width="6.0" height="48.0" fill="#a3a3a3"/><rect x="1737.5" y="764.0" width="1.5" height="48.0" fill="#a3a3a3"/><rect x="1743.0" y="764.0" width="2.0" height="48.0" fill="#a7a7a7"/><rect x="1746.5" y="764.0" width="6.0" height="48.0" fill="#a4a4a4"/><rect x="1756.5" y="764.0" width="1.0" height="48.0" fill="#a1a1a1"/><rect x="1762.5" y="764.0" width="5.0" height="48.0" fill="#a1a1a1"/><rect x="1775.5" y="764.0" width="2.0" height="48.0" fill="#a7a7a7"/><rect x="1784.0" y="764.0" width="1.0" height="48.0" fill="#b0b0b0"/><rect x="1790.5" y="764.0" width="6.0" height="48.0" fill="#9f9f9f"/><rect x="1809.5" y="764.0" width="3.0" height="48.0" fill="#a4a4a4"/><rect x="1815.5" y="764.0" width="5.0" height="48.0" fill="#a4a4a4"/><rect x="1822.5" y="764.0" width="1.5" height="48.0" fill="#a7a7a7"/><rect x="1834.0" y="764.0" width="3.0" height="48.0" fill="#9f9f9f"/><rect x="1839.0" y="764.0" width="4.0" height="48.0" fill="#a7a7a7"/><rect x="1845.0" y="764.0" width="4.0" height="48.0" fill="#a1a1a1"/><rect x="1851.6" y="764.0" width="21.4" height="48.0" fill="url(#hatch)"/><rect x="1873.0" y="764.0" width="46.8" height="48.0" fill="#bdbdbd"/><rect x="1873.0" y="764.0" width="3.0" height="48.0" fill="#9f9f9f"/><rect x="1882.0" y="764.0" width="6.0" height="48.0" fill="#a4a4a4"/><rect x="1894.0" y="764.0" width="2.0" height="48.0" fill="#a7a7a7"/><rect x="1899.0" y="764.0" width="6.0" height="48.0" fill="#a3a3a3"/><rect x="1918.0" y="764.0" width="1.8" height="48.0" fill="#a3a3a3"/><rect x="1701.4" y="764.0" width="7.8" height="48.0" fill="#96709f"/><rect x="1849.0" y="764.0" width="2.0" height="48.0" fill="#96709f"/><rect x="1876.7" y="764.0" width="5.8" height="48.0" fill="#96709f"/><rect x="1889.2" y="764.0" width="3.8" height="48.0" fill="#96709f"/><rect x="1921.0" y="764.0" width="17.8" height="48.0" fill="#bdbdbd"/><rect x="1923.0" y="764.0" width="2.0" height="48.0" fill="#a7a7a7"/><rect x="1935.0" y="764.0" width="2.0" height="48.0" fill="#a7a7a7"/><rect x="1941.3" y="764.0" width="43.5" height="48.0" fill="#bdbdbd"/><rect x="1942.3" y="764.0" width="2.0" height="48.0" fill="#a4a4a4"/><rect x="1949.3" y="764.0" width="5.0" height="48.0" fill="#a4a4a4"/><rect x="1959.3" y="764.0" width="1.0" height="48.0" fill="#b0b0b0"/><rect x="1964.3" y="764.0" width="3.0" height="48.0" fill="#a3a3a3"/><rect x="1970.3" y="764.0" width="2.0" height="48.0" fill="#a4a4a4"/><rect x="1977.3" y="764.0" width="6.0" height="48.0" fill="#9f9f9f"/><rect x="1944.6" y="764.0" width="3.0" height="48.0" fill="#96709f"/><rect x="1992.6" y="764.0" width="10.4" height="48.0" fill="#bdbdbd"/><rect x="1992.6" y="764.0" width="3.0" height="48.0" fill="#a4a4a4"/><rect x="1999.6" y="764.0" width="1.5" height="48.0" fill="#a4a4a4"/><rect x="2008.0" y="764.0" width="20.3" height="48.0" fill="#bebebe"/><rect x="2008.0" y="764.0" width="1.0" height="48.0" fill="#a2a2a2"/><rect x="2027.3" y="764.0" width="1.0" height="48.0" fill="#a2a2a2"/><rect x="2036.7" y="764.0" width="2.0" height="48.0" fill="#b5b5b5"/><text x="789.4" y="786.0" font-size="24" font-weight="400" fill="#ffffff" text-anchor="middle" style="font-family:'Roboto Condensed','Liberation Sans',sans-serif" textLength="359.44" lengthAdjust="spacingAndGlyphs" stroke="#ffffff" stroke-width="0.45">com.umetrip.android.msky.app [9513]</text><text x="789.4" y="806.0" font-size="20" font-weight="400" fill="#dcb2e4" text-anchor="middle" style="font-family:'Roboto Condensed','Liberation Sans',sans-serif" textLength="173.91" lengthAdjust="spacingAndGlyphs" stroke="#dcb2e4" stroke-width="0.45">RenderThread [10083]</text><text x="1862.4" y="786.0" font-size="24" font-weight="400" fill="#e4e4e4" text-anchor="middle" style="font-family:'Roboto Condensed','Liberation Sans',sans-serif" textLength="11.91" lengthAdjust="spacingAndGlyphs" stroke="#e4e4e4" stroke-width="0.45">d</text><text x="1862.4" y="806.0" font-size="20" font-weight="400" fill="#e4e4e4" text-anchor="middle" style="font-family:'Roboto Condensed','Liberation Sans',sans-serif" textLength="9.92" lengthAdjust="spacingAndGlyphs" stroke="#e4e4e4" stroke-width="0.45">d</text><rect x="498.0" y="824.0" width="1026.4" height="48.0" fill="#bebebe"/><rect x="498.0" y="824.0" width="1.0" height="48.0" fill="#a2a2a2"/><rect x="1523.4" y="824.0" width="1.0" height="48.0" fill="#a2a2a2"/><rect x="1524.4" y="824.0" width="1.6" height="48.0" fill="#a6a6a6"/><rect x="1526.0" y="824.0" width="97.7" height="48.0" fill="#bebebe"/><rect x="1526.0" y="824.0" width="1.0" height="48.0" fill="#a2a2a2"/><rect x="1622.7" y="824.0" width="1.0" height="48.0" fill="#a2a2a2"/><rect x="1623.7" y="824.0" width="1.9" height="48.0" fill="#a6a6a6"/><rect x="1625.6" y="824.0" width="40.2" height="48.0" fill="#bebebe"/><rect x="1625.6" y="824.0" width="1.0" height="48.0" fill="#a2a2a2"/><rect x="1664.8" y="824.0" width="1.0" height="48.0" fill="#a2a2a2"/><rect x="1665.8" y="824.0" width="2.9" height="48.0" fill="#a6a6a6"/><rect x="1668.7" y="824.0" width="373.3" height="48.0" fill="#bebebe"/><rect x="1668.7" y="824.0" width="1.0" height="48.0" fill="#a2a2a2"/><rect x="2041.0" y="824.0" width="1.0" height="48.0" fill="#a2a2a2"/><rect x="1671.0" y="824.0" width="1.6" height="48.0" fill="#a6a6a6"/><rect x="1679.0" y="824.0" width="5.0" height="48.0" fill="#a6a6a6"/><rect x="1712.5" y="824.0" width="1.5" height="48.0" fill="#a6a6a6"/><rect x="1718.0" y="824.0" width="2.4" height="48.0" fill="#a6a6a6"/><rect x="1731.0" y="824.0" width="3.0" height="48.0" fill="#a6a6a6"/><rect x="1764.4" y="824.0" width="4.9" height="48.0" fill="#a6a6a6"/><rect x="1785.0" y="824.0" width="3.0" height="48.0" fill="#a6a6a6"/><rect x="1794.8" y="824.0" width="3.9" height="48.0" fill="#a6a6a6"/><rect x="1824.0" y="824.0" width="2.0" height="48.0" fill="#a6a6a6"/><rect x="1878.0" y="824.0" width="3.0" height="48.0" fill="#a6a6a6"/><text x="1011.0" y="846.0" font-size="24" font-weight="400" fill="#e4e4e4" text-anchor="middle" style="font-family:'Roboto Condensed','Liberation Sans',sans-serif" textLength="125.67" lengthAdjust="spacingAndGlyphs" stroke="#e4e4e4" stroke-width="0.45">kswapd0 [90]</text><text x="1011.0" y="866.0" font-size="20" font-weight="400" fill="#e4e4e4" text-anchor="middle" style="font-family:'Roboto Condensed','Liberation Sans',sans-serif" textLength="104.73" lengthAdjust="spacingAndGlyphs" stroke="#e4e4e4" stroke-width="0.45">kswapd0 [90]</text><text x="1573.7" y="846.0" font-size="24" font-weight="400" fill="#e4e4e4" text-anchor="middle" style="font-family:'Roboto Condensed','Liberation Sans',sans-serif" textLength="86.77" lengthAdjust="spacingAndGlyphs" stroke="#e4e4e4" stroke-width="0.45">kswapd…</text><text x="1573.7" y="866.0" font-size="20" font-weight="400" fill="#e4e4e4" text-anchor="middle" style="font-family:'Roboto Condensed','Liberation Sans',sans-serif" textLength="72.31" lengthAdjust="spacingAndGlyphs" stroke="#e4e4e4" stroke-width="0.45">kswapd…</text><text x="1645.0" y="846.0" font-size="24" font-weight="400" fill="#e4e4e4" text-anchor="middle" style="font-family:'Roboto Condensed','Liberation Sans',sans-serif" textLength="24.98" lengthAdjust="spacingAndGlyphs" stroke="#e4e4e4" stroke-width="0.45">k…</text><text x="1645.0" y="866.0" font-size="20" font-weight="400" fill="#e4e4e4" text-anchor="middle" style="font-family:'Roboto Condensed','Liberation Sans',sans-serif" textLength="20.83" lengthAdjust="spacingAndGlyphs" stroke="#e4e4e4" stroke-width="0.45">k…</text><text x="1701.0" y="846.0" font-size="24" font-weight="400" fill="#e4e4e4" text-anchor="middle" style="font-family:'Roboto Condensed','Liberation Sans',sans-serif" textLength="10.83" lengthAdjust="spacingAndGlyphs" stroke="#e4e4e4" stroke-width="0.45">k</text><text x="1701.0" y="866.0" font-size="20" font-weight="400" fill="#e4e4e4" text-anchor="middle" style="font-family:'Roboto Condensed','Liberation Sans',sans-serif" textLength="9.02" lengthAdjust="spacingAndGlyphs" stroke="#e4e4e4" stroke-width="0.45">k</text><text x="1748.8" y="846.0" font-size="24" font-weight="400" fill="#e4e4e4" text-anchor="middle" style="font-family:'Roboto Condensed','Liberation Sans',sans-serif" textLength="10.83" lengthAdjust="spacingAndGlyphs" stroke="#e4e4e4" stroke-width="0.45">k</text><text x="1748.8" y="866.0" font-size="20" font-weight="400" fill="#e4e4e4" text-anchor="middle" style="font-family:'Roboto Condensed','Liberation Sans',sans-serif" textLength="9.02" lengthAdjust="spacingAndGlyphs" stroke="#e4e4e4" stroke-width="0.45">k</text><text x="1811.4" y="846.0" font-size="24" font-weight="400" fill="#e4e4e4" text-anchor="middle" style="font-family:'Roboto Condensed','Liberation Sans',sans-serif" textLength="10.83" lengthAdjust="spacingAndGlyphs" stroke="#e4e4e4" stroke-width="0.45">k</text><text x="1811.4" y="866.0" font-size="20" font-weight="400" fill="#e4e4e4" text-anchor="middle" style="font-family:'Roboto Condensed','Liberation Sans',sans-serif" textLength="9.02" lengthAdjust="spacingAndGlyphs" stroke="#e4e4e4" stroke-width="0.45">k</text><text x="1851.6" y="846.0" font-size="24" font-weight="400" fill="#e4e4e4" text-anchor="middle" style="font-family:'Roboto Condensed','Liberation Sans',sans-serif" textLength="35.94" lengthAdjust="spacingAndGlyphs" stroke="#e4e4e4" stroke-width="0.45">ks…</text><text x="1851.6" y="866.0" font-size="20" font-weight="400" fill="#e4e4e4" text-anchor="middle" style="font-family:'Roboto Condensed','Liberation Sans',sans-serif" textLength="29.95" lengthAdjust="spacingAndGlyphs" stroke="#e4e4e4" stroke-width="0.45">ks…</text><rect x="551.8" y="884.0" width="2.9" height="48.0" fill="#b5b5b5"/><rect x="588.6" y="884.0" width="3.2" height="48.0" fill="#b5b5b5"/><rect x="678.2" y="884.0" width="3.3" height="48.0" fill="#b5b5b5"/><rect x="709.1" y="884.0" width="3.3" height="48.0" fill="#b5b5b5"/><rect x="717.0" y="884.0" width="4.8" height="48.0" fill="#b5b5b5"/><rect x="724.8" y="884.0" width="4.9" height="48.0" fill="#bdbdbd"/><rect x="724.8" y="884.0" width="4.0" height="48.0" fill="#a4a4a4"/><rect x="737.0" y="884.0" width="4.8" height="48.0" fill="#b5b5b5"/><rect x="754.0" y="884.0" width="3.1" height="48.0" fill="#b5b5b5"/><rect x="820.6" y="884.0" width="1.9" height="48.0" fill="#b5b5b5"/><rect x="836.2" y="884.0" width="13.8" height="48.0" fill="#bdbdbd"/><rect x="837.2" y="884.0" width="3.0" height="48.0" fill="#a7a7a7"/><rect x="844.2" y="884.0" width="2.0" height="48.0" fill="#a1a1a1"/><rect x="848.2" y="884.0" width="1.8" height="48.0" fill="#a4a4a4"/><rect x="854.2" y="884.0" width="-4.2" height="48.0" fill="#b0b0b0"/><rect x="851.5" y="884.0" width="3.3" height="48.0" fill="#b5b5b5"/><rect x="904.0" y="884.0" width="1.5" height="48.0" fill="#bdbdbd"/><rect x="908.5" y="884.0" width="2.0" height="48.0" fill="#a8a8a8"/><rect x="912.5" y="884.0" width="3.0" height="48.0" fill="#b4b4b4"/><rect x="917.0" y="884.0" width="2.0" height="48.0" fill="#a8a8a8"/><rect x="922.0" y="884.0" width="1.5" height="48.0" fill="#a8a8a8"/><rect x="925.0" y="884.0" width="3.0" height="48.0" fill="#a8a8a8"/><rect x="931.0" y="884.0" width="2.0" height="48.0" fill="#a8a8a8"/><rect x="934.5" y="884.0" width="2.0" height="48.0" fill="#a8a8a8"/><rect x="937.5" y="884.0" width="3.0" height="48.0" fill="#bdbdbd"/><rect x="942.5" y="884.0" width="0.7" height="48.0" fill="#a8a8a8"/><rect x="1690.0" y="884.0" width="157.0" height="48.0" fill="#8a3a98"/><rect x="1847.0" y="884.0" width="3.0" height="48.0" fill="#b4b4b4"/><rect x="1853.0" y="884.0" width="2.0" height="48.0" fill="#bdbdbd"/><rect x="1858.0" y="884.0" width="3.0" height="48.0" fill="#bdbdbd"/><rect x="1862.0" y="884.0" width="4.0" height="48.0" fill="#bdbdbd"/><rect x="1867.5" y="884.0" width="2.0" height="48.0" fill="#b4b4b4"/><rect x="1872.5" y="884.0" width="3.0" height="48.0" fill="#b4b4b4"/><rect x="1876.5" y="884.0" width="2.0" height="48.0" fill="#a8a8a8"/><rect x="1880.0" y="884.0" width="2.0" height="48.0" fill="#a8a8a8"/><rect x="1883.5" y="884.0" width="4.0" height="48.0" fill="#bdbdbd"/><rect x="1888.5" y="884.0" width="4.0" height="48.0" fill="#bdbdbd"/><rect x="1894.0" y="884.0" width="3.0" height="48.0" fill="#a8a8a8"/><rect x="1898.0" y="884.0" width="2.0" height="48.0" fill="#a8a8a8"/><rect x="1902.0" y="884.0" width="3.0" height="48.0" fill="#a8a8a8"/><rect x="1908.0" y="884.0" width="2.0" height="48.0" fill="#a8a8a8"/><rect x="1911.5" y="884.0" width="3.0" height="48.0" fill="#a8a8a8"/><rect x="1915.5" y="884.0" width="4.0" height="48.0" fill="#bdbdbd"/><rect x="1920.5" y="884.0" width="2.0" height="48.0" fill="#bdbdbd"/><rect x="1925.5" y="884.0" width="3.0" height="48.0" fill="#b4b4b4"/><rect x="1929.5" y="884.0" width="1.5" height="48.0" fill="#bdbdbd"/><rect x="1934.0" y="884.0" width="2.0" height="48.0" fill="#a8a8a8"/><rect x="1938.0" y="884.0" width="1.5" height="48.0" fill="#b4b4b4"/><rect x="1941.5" y="884.0" width="3.0" height="48.0" fill="#a8a8a8"/><rect x="1946.0" y="884.0" width="3.0" height="48.0" fill="#bdbdbd"/><rect x="1950.5" y="884.0" width="2.0" height="48.0" fill="#b4b4b4"/><rect x="1953.5" y="884.0" width="2.0" height="48.0" fill="#bdbdbd"/><rect x="1957.0" y="884.0" width="2.0" height="48.0" fill="#bdbdbd"/><rect x="1962.0" y="884.0" width="3.0" height="48.0" fill="#bdbdbd"/><rect x="1966.5" y="884.0" width="3.0" height="48.0" fill="#bdbdbd"/><rect x="1971.0" y="884.0" width="2.0" height="48.0" fill="#a8a8a8"/><rect x="1976.0" y="884.0" width="2.0" height="48.0" fill="#bdbdbd"/><rect x="1979.5" y="884.0" width="3.0" height="48.0" fill="#b4b4b4"/><rect x="1984.5" y="884.0" width="2.0" height="48.0" fill="#b4b4b4"/><rect x="1988.5" y="884.0" width="2.0" height="48.0" fill="#bdbdbd"/><rect x="1993.5" y="884.0" width="3.0" height="48.0" fill="#a8a8a8"/><rect x="1997.5" y="884.0" width="2.0" height="48.0" fill="#b4b4b4"/><rect x="2001.5" y="884.0" width="3.0" height="48.0" fill="#b4b4b4"/><rect x="2005.5" y="884.0" width="4.0" height="48.0" fill="#bdbdbd"/><rect x="2011.0" y="884.0" width="2.0" height="48.0" fill="#bdbdbd"/><rect x="2013.0" y="884.0" width="29.0" height="48.0" fill="#8a3a98"/><text x="1770.0" y="906.0" font-size="24" font-weight="400" fill="#ffffff" text-anchor="middle" style="font-family:'Roboto Condensed','Liberation Sans',sans-serif" textLength="134.39" lengthAdjust="spacingAndGlyphs" stroke="#ffffff" stroke-width="0.45">com.umetrip…</text><text x="1770.0" y="926.0" font-size="20" font-weight="400" fill="#dcb2e4" text-anchor="middle" style="font-family:'Roboto Condensed','Liberation Sans',sans-serif" textLength="121.73" lengthAdjust="spacingAndGlyphs" stroke="#dcb2e4" stroke-width="0.45">RenderThread…</text><rect x="986.0" y="458.0" width="2.0" height="58.0" fill="#000000" fill-opacity="0.06"/><rect x="1576.0" y="458.0" width="2.0" height="58.0" fill="#000000" fill-opacity="0.06"/><rect x="986.0" y="518.0" width="2.0" height="58.0" fill="#000000" fill-opacity="0.06"/><rect x="1576.0" y="518.0" width="2.0" height="58.0" fill="#000000" fill-opacity="0.06"/><rect x="986.0" y="578.0" width="2.0" height="58.0" fill="#000000" fill-opacity="0.06"/><rect x="1576.0" y="578.0" width="2.0" height="58.0" fill="#000000" fill-opacity="0.06"/><rect x="986.0" y="638.0" width="2.0" height="58.0" fill="#000000" fill-opacity="0.06"/><rect x="1576.0" y="638.0" width="2.0" height="58.0" fill="#000000" fill-opacity="0.06"/><rect x="986.0" y="698.0" width="2.0" height="58.0" fill="#000000" fill-opacity="0.06"/><rect x="1576.0" y="698.0" width="2.0" height="58.0" fill="#000000" fill-opacity="0.06"/><rect x="986.0" y="758.0" width="2.0" height="6.0" fill="#000000" fill-opacity="0.06"/><rect x="986.0" y="812.0" width="2.0" height="4.0" fill="#000000" fill-opacity="0.06"/><rect x="1576.0" y="758.0" width="2.0" height="58.0" fill="#000000" fill-opacity="0.06"/><rect x="986.0" y="818.0" width="2.0" height="58.0" fill="#000000" fill-opacity="0.06"/><rect x="1576.0" y="818.0" width="2.0" height="58.0" fill="#000000" fill-opacity="0.06"/><rect x="986.0" y="878.0" width="2.0" height="58.0" fill="#000000" fill-opacity="0.06"/><rect x="1576.0" y="878.0" width="2.0" height="58.0" fill="#000000" fill-opacity="0.06"/><rect x="1082.0" y="878.0" width="607.0" height="60.0" fill="#652a6f"/><rect x="1085.8" y="884.0" width="600.2" height="48.0" fill="#8a3a98"/><text x="1384.5" y="906.0" font-size="24" font-weight="400" fill="#ffffff" text-anchor="middle" style="font-family:'Roboto Condensed','Liberation Sans',sans-serif" textLength="359.44" lengthAdjust="spacingAndGlyphs" stroke="#ffffff" stroke-width="0.45">com.umetrip.android.msky.app [9513]</text><text x="1384.7" y="926.0" font-size="20" font-weight="400" fill="#dcb2e4" text-anchor="middle" style="font-family:'Roboto Condensed','Liberation Sans',sans-serif" textLength="173.91" lengthAdjust="spacingAndGlyphs" stroke="#dcb2e4" stroke-width="0.45">RenderThread [10083]</text><rect x="0.0" y="943.0" width="2042.0" height="13.0" fill="#e9ecec"/><rect x="1700.0" y="941.0" width="342.0" height="3.0" fill="#bdbdbd"/><defs><linearGradient id="bg3" x1="0" y1="0" x2="1" y2="0"><stop offset="0" stop-color="#e9ecec"/><stop offset="1" stop-color="#d8dcdc"/></linearGradient></defs><rect x="1600.0" y="944.0" width="130.0" height="12.0" fill="url(#bg3)"/><rect x="1730.0" y="944.0" width="312.0" height="12.0" fill="#d8dcdc"/><path d="M62,956 L62,955 Q62,951 66,951 L284,951 Q288,951 288,955 L288,956 Z" fill="#ffffff" stroke="#cfd2d2" stroke-width="1"/><path d="M1636,882 L2042,882 L2042,941 L1630,941 L1630,888 Q1630,882 1636,882 Z" fill="#ffffff" fill-opacity="0.9"/><rect x="1630.0" y="932.0" width="412.0" height="9.0" fill="#ffffff"/><text x="1644.0" y="907.5" font-size="21.6" font-weight="400" fill="#3a3a3a" text-anchor="start" style="font-family:'Roboto','Liberation Sans',sans-serif" textLength="387.75" lengthAdjust="spacingAndGlyphs">P: com.umetrip.android.msky.app [9513]</text><text x="1644.0" y="931.5" font-size="21.6" font-weight="400" fill="#3a3a3a" text-anchor="start" style="font-family:'Roboto','Liberation Sans',sans-serif" textLength="235.86" lengthAdjust="spacingAndGlyphs">T: RenderThread [10083]</text><rect x="1079" y="95" width="618" height="846" fill="none" stroke="#ff0022" stroke-width="6"/><line x1="1218" y1="877.5" x2="1218" y2="172" stroke="#ff0022" stroke-width="7.2" stroke-linecap="round"/><polygon points="1217.5,150.4 1229.2,177 1205.7,177" fill="#ff0022"/></svg></body></html>
